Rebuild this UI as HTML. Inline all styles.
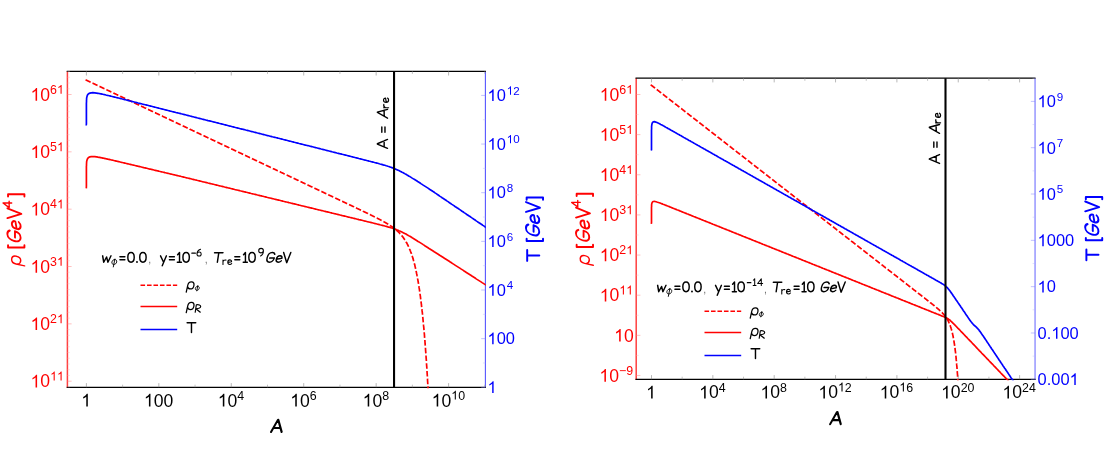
<!DOCTYPE html><html><head><meta charset="utf-8"><style>html,body{margin:0;padding:0;background:#fff}svg{display:block}</style></head><body><svg width="1112" height="458" viewBox="0 0 1112 458">
<rect width="1112" height="458" fill="#fff"/>
<g opacity="0.999">
<clipPath id="cl"><rect x="67.40" y="71.30" width="418.30" height="317.00"/></clipPath>
<clipPath id="cr"><rect x="636.2" y="78.2" width="398.8" height="302.1"/></clipPath>
<line x1="67.40" y1="71.30" x2="67.40" y2="387.90" stroke="#ff4040" stroke-width="1.5"/>
<line x1="485.40" y1="71.30" x2="485.40" y2="387.90" stroke="#5555ff" stroke-width="1.1"/>
<line x1="66.70" y1="71.30" x2="485.90" y2="71.30" stroke="#000" stroke-width="1.3"/>
<line x1="66.70" y1="387.30" x2="485.90" y2="387.30" stroke="#000" stroke-width="1.3"/>
<g clip-path="url(#cl)" fill="none" stroke-linejoin="round">
<path d="M85.6,79.8 L85.8,79.9 L86.1,80.0 L86.3,80.2 L86.6,80.3 L86.8,80.4 L87.1,80.5 L87.3,80.6 L87.6,80.7 L87.8,80.9 L88.1,81.0 L88.3,81.1 L88.6,81.2 L88.8,81.3 L89.1,81.5 L89.3,81.6 L89.6,81.7 L89.8,81.8 L90.1,81.9 L90.3,82.1 L90.6,82.2 L90.8,82.3 L91.1,82.4 L91.3,82.5 L91.6,82.6 L91.8,82.8 L92.1,82.9 L92.3,83.0 L92.6,83.1 L92.8,83.2 L93.1,83.4 L93.3,83.5 L93.6,83.6 L93.8,83.7 L94.1,83.8 L94.3,83.9 L94.6,84.1 L94.8,84.2 L95.1,84.3 L95.3,84.4 L95.6,84.5 L95.8,84.7 L96.1,84.8 L96.3,84.9 L96.6,85.0 L96.8,85.1 L97.1,85.2 L97.3,85.4 L97.6,85.5 L97.8,85.6 L98.1,85.7 L98.3,85.8 L98.6,86.0 L98.8,86.1 L99.1,86.2 L99.3,86.3 L99.6,86.4 L99.8,86.5 L100.1,86.7 L100.3,86.8 L100.6,86.9 L100.8,87.0 L101.1,87.1 L101.3,87.3 L101.6,87.4 L101.8,87.5 L102.1,87.6 L102.3,87.7 L102.6,87.9 L102.8,88.0 L103.1,88.1 L103.3,88.2 L103.6,88.3 L103.8,88.4 L104.1,88.6 L104.3,88.7 L104.6,88.8 L104.8,88.9 L105.1,89.0 L105.3,89.2 L105.6,89.3 L105.8,89.4 L106.1,89.5 L106.3,89.6 L106.6,89.7 L106.8,89.9 L107.1,90.0 L107.3,90.1 L107.6,90.2 L107.8,90.3 L108.1,90.5 L108.3,90.6 L108.6,90.7 L108.8,90.8 L109.1,90.9 L109.3,91.0 L109.6,91.2 L109.8,91.3 L110.1,91.4 L110.3,91.5 L110.6,91.6 L110.8,91.8 L111.1,91.9 L111.3,92.0 L111.6,92.1 L111.8,92.2 L112.1,92.3 L112.3,92.5 L112.6,92.6 L112.8,92.7 L113.1,92.8 L113.3,92.9 L113.6,93.1 L113.8,93.2 L114.1,93.3 L114.3,93.4 L114.6,93.5 L114.8,93.7 L115.1,93.8 L115.3,93.9 L115.6,94.0 L115.8,94.1 L116.1,94.2 L116.3,94.4 L116.6,94.5 L116.8,94.6 L117.1,94.7 L117.3,94.8 L117.6,95.0 L117.8,95.1 L118.1,95.2 L118.3,95.3 L118.6,95.4 L118.8,95.5 L119.1,95.7 L119.3,95.8 L119.6,95.9 L119.8,96.0 L120.1,96.1 L120.3,96.3 L120.6,96.4 L120.8,96.5 L121.1,96.6 L121.3,96.7 L121.6,96.8 L121.8,97.0 L122.1,97.1 L122.3,97.2 L122.6,97.3 L122.8,97.4 L123.1,97.6 L123.3,97.7 L123.6,97.8 L123.8,97.9 L124.1,98.0 L124.3,98.1 L124.6,98.3 L124.8,98.4 L125.1,98.5 L125.3,98.6 L125.6,98.7 L125.8,98.9 L126.1,99.0 L126.3,99.1 L126.6,99.2 L126.8,99.3 L127.1,99.5 L127.3,99.6 L127.6,99.7 L127.8,99.8 L128.1,99.9 L128.3,100.0 L128.6,100.2 L128.8,100.3 L129.1,100.4 L129.3,100.5 L129.6,100.6 L129.8,100.8 L130.1,100.9 L130.3,101.0 L130.6,101.1 L130.8,101.2 L131.1,101.3 L131.3,101.5 L131.6,101.6 L131.8,101.7 L132.1,101.8 L132.3,101.9 L132.6,102.1 L132.8,102.2 L133.1,102.3 L133.3,102.4 L133.6,102.5 L133.8,102.6 L134.1,102.8 L134.3,102.9 L134.6,103.0 L134.8,103.1 L135.1,103.2 L135.3,103.4 L135.6,103.5 L135.8,103.6 L136.1,103.7 L136.3,103.8 L136.6,104.0 L136.8,104.1 L137.1,104.2 L137.3,104.3 L137.6,104.4 L137.8,104.5 L138.1,104.7 L138.3,104.8 L138.6,104.9 L138.8,105.0 L139.1,105.1 L139.3,105.3 L139.6,105.4 L139.8,105.5 L140.1,105.6 L140.3,105.7 L140.6,105.8 L140.8,106.0 L141.1,106.1 L141.3,106.2 L141.6,106.3 L141.8,106.4 L142.1,106.6 L142.3,106.7 L142.6,106.8 L142.8,106.9 L143.1,107.0 L143.3,107.1 L143.6,107.3 L143.8,107.4 L144.1,107.5 L144.3,107.6 L144.6,107.7 L144.8,107.9 L145.1,108.0 L145.3,108.1 L145.6,108.2 L145.8,108.3 L146.1,108.4 L146.3,108.6 L146.6,108.7 L146.8,108.8 L147.1,108.9 L147.3,109.0 L147.6,109.2 L147.8,109.3 L148.1,109.4 L148.3,109.5 L148.6,109.6 L148.8,109.8 L149.1,109.9 L149.3,110.0 L149.6,110.1 L149.8,110.2 L150.1,110.3 L150.3,110.5 L150.6,110.6 L150.8,110.7 L151.1,110.8 L151.3,110.9 L151.6,111.1 L151.8,111.2 L152.1,111.3 L152.3,111.4 L152.6,111.5 L152.8,111.6 L153.1,111.8 L153.3,111.9 L153.6,112.0 L153.8,112.1 L154.1,112.2 L154.3,112.4 L154.6,112.5 L154.8,112.6 L155.1,112.7 L155.3,112.8 L155.6,112.9 L155.8,113.1 L156.1,113.2 L156.3,113.3 L156.6,113.4 L156.8,113.5 L157.1,113.7 L157.3,113.8 L157.6,113.9 L157.8,114.0 L158.1,114.1 L158.3,114.2 L158.6,114.4 L158.8,114.5 L159.1,114.6 L159.3,114.7 L159.6,114.8 L159.8,115.0 L160.1,115.1 L160.3,115.2 L160.6,115.3 L160.8,115.4 L161.1,115.6 L161.3,115.7 L161.6,115.8 L161.8,115.9 L162.1,116.0 L162.3,116.1 L162.6,116.3 L162.8,116.4 L163.1,116.5 L163.3,116.6 L163.6,116.7 L163.8,116.9 L164.1,117.0 L164.3,117.1 L164.6,117.2 L164.8,117.3 L165.1,117.4 L165.3,117.6 L165.6,117.7 L165.8,117.8 L166.1,117.9 L166.3,118.0 L166.6,118.2 L166.8,118.3 L167.1,118.4 L167.3,118.5 L167.6,118.6 L167.8,118.7 L168.1,118.9 L168.3,119.0 L168.6,119.1 L168.8,119.2 L169.1,119.3 L169.3,119.5 L169.6,119.6 L169.8,119.7 L170.1,119.8 L170.3,119.9 L170.6,120.0 L170.8,120.2 L171.1,120.3 L171.3,120.4 L171.6,120.5 L171.8,120.6 L172.1,120.8 L172.3,120.9 L172.6,121.0 L172.8,121.1 L173.1,121.2 L173.3,121.4 L173.6,121.5 L173.8,121.6 L174.1,121.7 L174.3,121.8 L174.6,121.9 L174.8,122.1 L175.1,122.2 L175.3,122.3 L175.6,122.4 L175.8,122.5 L176.1,122.7 L176.3,122.8 L176.6,122.9 L176.8,123.0 L177.1,123.1 L177.3,123.2 L177.6,123.4 L177.8,123.5 L178.1,123.6 L178.3,123.7 L178.6,123.8 L178.8,124.0 L179.1,124.1 L179.3,124.2 L179.6,124.3 L179.8,124.4 L180.1,124.5 L180.3,124.7 L180.6,124.8 L180.8,124.9 L181.1,125.0 L181.3,125.1 L181.6,125.3 L181.8,125.4 L182.1,125.5 L182.3,125.6 L182.6,125.7 L182.8,125.8 L183.1,126.0 L183.3,126.1 L183.6,126.2 L183.8,126.3 L184.1,126.4 L184.3,126.6 L184.6,126.7 L184.8,126.8 L185.1,126.9 L185.3,127.0 L185.6,127.2 L185.8,127.3 L186.1,127.4 L186.3,127.5 L186.6,127.6 L186.8,127.7 L187.1,127.9 L187.3,128.0 L187.6,128.1 L187.8,128.2 L188.1,128.3 L188.3,128.5 L188.6,128.6 L188.8,128.7 L189.1,128.8 L189.3,128.9 L189.6,129.0 L189.8,129.2 L190.1,129.3 L190.3,129.4 L190.6,129.5 L190.8,129.6 L191.1,129.8 L191.3,129.9 L191.6,130.0 L191.8,130.1 L192.1,130.2 L192.3,130.3 L192.6,130.5 L192.8,130.6 L193.1,130.7 L193.3,130.8 L193.6,130.9 L193.8,131.1 L194.1,131.2 L194.3,131.3 L194.6,131.4 L194.8,131.5 L195.1,131.6 L195.3,131.8 L195.6,131.9 L195.8,132.0 L196.1,132.1 L196.3,132.2 L196.6,132.4 L196.8,132.5 L197.1,132.6 L197.3,132.7 L197.6,132.8 L197.8,133.0 L198.1,133.1 L198.3,133.2 L198.6,133.3 L198.8,133.4 L199.1,133.5 L199.3,133.7 L199.6,133.8 L199.8,133.9 L200.1,134.0 L200.3,134.1 L200.6,134.3 L200.8,134.4 L201.1,134.5 L201.3,134.6 L201.6,134.7 L201.8,134.8 L202.1,135.0 L202.3,135.1 L202.6,135.2 L202.8,135.3 L203.1,135.4 L203.3,135.6 L203.6,135.7 L203.8,135.8 L204.1,135.9 L204.3,136.0 L204.6,136.1 L204.8,136.3 L205.1,136.4 L205.3,136.5 L205.6,136.6 L205.8,136.7 L206.1,136.9 L206.3,137.0 L206.6,137.1 L206.8,137.2 L207.1,137.3 L207.3,137.5 L207.6,137.6 L207.8,137.7 L208.1,137.8 L208.3,137.9 L208.6,138.0 L208.8,138.2 L209.1,138.3 L209.3,138.4 L209.6,138.5 L209.8,138.6 L210.1,138.8 L210.3,138.9 L210.6,139.0 L210.8,139.1 L211.1,139.2 L211.3,139.3 L211.6,139.5 L211.8,139.6 L212.1,139.7 L212.3,139.8 L212.6,139.9 L212.8,140.1 L213.1,140.2 L213.3,140.3 L213.6,140.4 L213.8,140.5 L214.1,140.6 L214.3,140.8 L214.6,140.9 L214.8,141.0 L215.1,141.1 L215.3,141.2 L215.6,141.4 L215.8,141.5 L216.1,141.6 L216.3,141.7 L216.6,141.8 L216.8,141.9 L217.1,142.1 L217.3,142.2 L217.6,142.3 L217.8,142.4 L218.1,142.5 L218.3,142.7 L218.6,142.8 L218.8,142.9 L219.1,143.0 L219.3,143.1 L219.6,143.3 L219.8,143.4 L220.1,143.5 L220.3,143.6 L220.6,143.7 L220.8,143.8 L221.1,144.0 L221.3,144.1 L221.6,144.2 L221.8,144.3 L222.1,144.4 L222.3,144.6 L222.6,144.7 L222.8,144.8 L223.1,144.9 L223.3,145.0 L223.6,145.1 L223.8,145.3 L224.1,145.4 L224.3,145.5 L224.6,145.6 L224.8,145.7 L225.1,145.9 L225.3,146.0 L225.6,146.1 L225.8,146.2 L226.1,146.3 L226.3,146.4 L226.6,146.6 L226.8,146.7 L227.1,146.8 L227.3,146.9 L227.6,147.0 L227.8,147.2 L228.1,147.3 L228.3,147.4 L228.6,147.5 L228.8,147.6 L229.1,147.7 L229.3,147.9 L229.6,148.0 L229.8,148.1 L230.1,148.2 L230.3,148.3 L230.6,148.5 L230.8,148.6 L231.1,148.7 L231.3,148.8 L231.6,148.9 L231.8,149.1 L232.1,149.2 L232.3,149.3 L232.6,149.4 L232.8,149.5 L233.1,149.6 L233.3,149.8 L233.6,149.9 L233.8,150.0 L234.1,150.1 L234.3,150.2 L234.6,150.4 L234.8,150.5 L235.1,150.6 L235.3,150.7 L235.6,150.8 L235.8,150.9 L236.1,151.1 L236.3,151.2 L236.6,151.3 L236.8,151.4 L237.1,151.5 L237.3,151.7 L237.6,151.8 L237.8,151.9 L238.1,152.0 L238.3,152.1 L238.6,152.2 L238.8,152.4 L239.1,152.5 L239.3,152.6 L239.6,152.7 L239.8,152.8 L240.1,153.0 L240.3,153.1 L240.6,153.2 L240.8,153.3 L241.1,153.4 L241.3,153.5 L241.6,153.7 L241.8,153.8 L242.1,153.9 L242.3,154.0 L242.6,154.1 L242.8,154.3 L243.1,154.4 L243.3,154.5 L243.6,154.6 L243.8,154.7 L244.1,154.9 L244.3,155.0 L244.6,155.1 L244.8,155.2 L245.1,155.3 L245.3,155.4 L245.6,155.6 L245.8,155.7 L246.1,155.8 L246.3,155.9 L246.6,156.0 L246.8,156.2 L247.1,156.3 L247.3,156.4 L247.6,156.5 L247.8,156.6 L248.1,156.7 L248.3,156.9 L248.6,157.0 L248.8,157.1 L249.1,157.2 L249.3,157.3 L249.6,157.5 L249.8,157.6 L250.1,157.7 L250.3,157.8 L250.6,157.9 L250.8,158.0 L251.1,158.2 L251.3,158.3 L251.6,158.4 L251.8,158.5 L252.1,158.6 L252.3,158.8 L252.6,158.9 L252.8,159.0 L253.1,159.1 L253.3,159.2 L253.6,159.3 L253.8,159.5 L254.1,159.6 L254.3,159.7 L254.6,159.8 L254.8,159.9 L255.1,160.1 L255.3,160.2 L255.6,160.3 L255.8,160.4 L256.1,160.5 L256.4,160.7 L256.6,160.8 L256.9,160.9 L257.1,161.0 L257.4,161.1 L257.6,161.2 L257.9,161.4 L258.1,161.5 L258.4,161.6 L258.6,161.7 L258.9,161.8 L259.1,162.0 L259.4,162.1 L259.6,162.2 L259.9,162.3 L260.1,162.4 L260.4,162.5 L260.6,162.7 L260.9,162.8 L261.1,162.9 L261.4,163.0 L261.6,163.1 L261.9,163.3 L262.1,163.4 L262.4,163.5 L262.6,163.6 L262.9,163.7 L263.1,163.8 L263.4,164.0 L263.6,164.1 L263.9,164.2 L264.1,164.3 L264.4,164.4 L264.6,164.6 L264.9,164.7 L265.1,164.8 L265.4,164.9 L265.6,165.0 L265.9,165.1 L266.1,165.3 L266.4,165.4 L266.6,165.5 L266.9,165.6 L267.1,165.7 L267.4,165.9 L267.6,166.0 L267.9,166.1 L268.1,166.2 L268.4,166.3 L268.6,166.5 L268.9,166.6 L269.1,166.7 L269.4,166.8 L269.6,166.9 L269.9,167.0 L270.1,167.2 L270.4,167.3 L270.6,167.4 L270.9,167.5 L271.1,167.6 L271.4,167.8 L271.6,167.9 L271.9,168.0 L272.1,168.1 L272.4,168.2 L272.6,168.3 L272.9,168.5 L273.1,168.6 L273.4,168.7 L273.6,168.8 L273.9,168.9 L274.1,169.1 L274.4,169.2 L274.6,169.3 L274.9,169.4 L275.1,169.5 L275.4,169.6 L275.6,169.8 L275.9,169.9 L276.1,170.0 L276.4,170.1 L276.6,170.2 L276.9,170.4 L277.1,170.5 L277.4,170.6 L277.6,170.7 L277.9,170.8 L278.1,171.0 L278.4,171.1 L278.6,171.2 L278.9,171.3 L279.1,171.4 L279.4,171.5 L279.6,171.7 L279.9,171.8 L280.1,171.9 L280.4,172.0 L280.6,172.1 L280.9,172.3 L281.1,172.4 L281.4,172.5 L281.6,172.6 L281.9,172.7 L282.1,172.8 L282.4,173.0 L282.6,173.1 L282.9,173.2 L283.1,173.3 L283.4,173.4 L283.6,173.6 L283.9,173.7 L284.1,173.8 L284.4,173.9 L284.6,174.0 L284.9,174.1 L285.1,174.3 L285.4,174.4 L285.6,174.5 L285.9,174.6 L286.1,174.7 L286.4,174.9 L286.6,175.0 L286.9,175.1 L287.1,175.2 L287.4,175.3 L287.6,175.4 L287.9,175.6 L288.1,175.7 L288.4,175.8 L288.6,175.9 L288.9,176.0 L289.1,176.2 L289.4,176.3 L289.6,176.4 L289.9,176.5 L290.1,176.6 L290.4,176.8 L290.6,176.9 L290.9,177.0 L291.1,177.1 L291.4,177.2 L291.6,177.3 L291.9,177.5 L292.1,177.6 L292.4,177.7 L292.6,177.8 L292.9,177.9 L293.1,178.1 L293.4,178.2 L293.6,178.3 L293.9,178.4 L294.1,178.5 L294.4,178.6 L294.6,178.8 L294.9,178.9 L295.1,179.0 L295.4,179.1 L295.6,179.2 L295.9,179.4 L296.1,179.5 L296.4,179.6 L296.6,179.7 L296.9,179.8 L297.1,179.9 L297.4,180.1 L297.6,180.2 L297.9,180.3 L298.1,180.4 L298.4,180.5 L298.6,180.7 L298.9,180.8 L299.1,180.9 L299.4,181.0 L299.6,181.1 L299.9,181.2 L300.1,181.4 L300.4,181.5 L300.6,181.6 L300.9,181.7 L301.1,181.8 L301.4,182.0 L301.6,182.1 L301.9,182.2 L302.1,182.3 L302.4,182.4 L302.6,182.6 L302.9,182.7 L303.1,182.8 L303.4,182.9 L303.6,183.0 L303.9,183.1 L304.1,183.3 L304.4,183.4 L304.6,183.5 L304.9,183.6 L305.1,183.7 L305.4,183.9 L305.6,184.0 L305.9,184.1 L306.1,184.2 L306.4,184.3 L306.6,184.4 L306.9,184.6 L307.1,184.7 L307.4,184.8 L307.6,184.9 L307.9,185.0 L308.1,185.2 L308.4,185.3 L308.6,185.4 L308.9,185.5 L309.1,185.6 L309.4,185.7 L309.6,185.9 L309.9,186.0 L310.1,186.1 L310.4,186.2 L310.6,186.3 L310.9,186.5 L311.1,186.6 L311.4,186.7 L311.6,186.8 L311.9,186.9 L312.1,187.0 L312.4,187.2 L312.6,187.3 L312.9,187.4 L313.1,187.5 L313.4,187.6 L313.6,187.8 L313.9,187.9 L314.1,188.0 L314.4,188.1 L314.6,188.2 L314.9,188.4 L315.1,188.5 L315.4,188.6 L315.6,188.7 L315.9,188.8 L316.1,188.9 L316.4,189.1 L316.6,189.2 L316.9,189.3 L317.1,189.4 L317.4,189.5 L317.6,189.7 L317.9,189.8 L318.1,189.9 L318.4,190.0 L318.6,190.1 L318.9,190.2 L319.1,190.4 L319.4,190.5 L319.6,190.6 L319.9,190.7 L320.1,190.8 L320.4,191.0 L320.6,191.1 L320.9,191.2 L321.1,191.3 L321.4,191.4 L321.6,191.5 L321.9,191.7 L322.1,191.8 L322.4,191.9 L322.6,192.0 L322.9,192.1 L323.1,192.3 L323.4,192.4 L323.6,192.5 L323.9,192.6 L324.1,192.7 L324.4,192.9 L324.6,193.0 L324.9,193.1 L325.1,193.2 L325.4,193.3 L325.6,193.4 L325.9,193.6 L326.1,193.7 L326.4,193.8 L326.6,193.9 L326.9,194.0 L327.1,194.2 L327.4,194.3 L327.6,194.4 L327.9,194.5 L328.1,194.6 L328.4,194.7 L328.6,194.9 L328.9,195.0 L329.1,195.1 L329.4,195.2 L329.6,195.3 L329.9,195.5 L330.1,195.6 L330.4,195.7 L330.6,195.8 L330.9,195.9 L331.1,196.0 L331.4,196.2 L331.6,196.3 L331.9,196.4 L332.1,196.5 L332.4,196.6 L332.6,196.8 L332.9,196.9 L333.1,197.0 L333.4,197.1 L333.6,197.2 L333.9,197.3 L334.1,197.5 L334.4,197.6 L334.6,197.7 L334.9,197.8 L335.1,197.9 L335.4,198.1 L335.6,198.2 L335.9,198.3 L336.1,198.4 L336.4,198.5 L336.6,198.7 L336.9,198.8 L337.1,198.9 L337.4,199.0 L337.6,199.1 L337.9,199.2 L338.1,199.4 L338.4,199.5 L338.6,199.6 L338.9,199.7 L339.1,199.8 L339.4,200.0 L339.6,200.1 L339.9,200.2 L340.1,200.3 L340.4,200.4 L340.6,200.5 L340.9,200.7 L341.1,200.8 L341.4,200.9 L341.6,201.0 L341.9,201.1 L342.1,201.3 L342.4,201.4 L342.6,201.5 L342.9,201.6 L343.1,201.7 L343.4,201.9 L343.6,202.0 L343.9,202.1 L344.1,202.2 L344.4,202.3 L344.6,202.4 L344.9,202.6 L345.1,202.7 L345.4,202.8 L345.6,202.9 L345.9,203.0 L346.1,203.2 L346.4,203.3 L346.6,203.4 L346.9,203.5 L347.1,203.6 L347.4,203.7 L347.6,203.9 L347.9,204.0 L348.1,204.1 L348.4,204.2 L348.6,204.3 L348.9,204.5 L349.1,204.6 L349.4,204.7 L349.6,204.8 L349.9,204.9 L350.1,205.1 L350.4,205.2 L350.6,205.3 L350.9,205.4 L351.1,205.5 L351.4,205.6 L351.6,205.8 L351.9,205.9 L352.1,206.0 L352.4,206.1 L352.6,206.2 L352.9,206.4 L353.1,206.5 L353.4,206.6 L353.6,206.7 L353.9,206.8 L354.1,207.0 L354.4,207.1 L354.6,207.2 L354.9,207.3 L355.1,207.4 L355.4,207.6 L355.6,207.7 L355.9,207.8 L356.1,207.9 L356.4,208.0 L356.6,208.1 L356.9,208.3 L357.1,208.4 L357.4,208.5 L357.6,208.6 L357.9,208.7 L358.1,208.9 L358.4,209.0 L358.6,209.1 L358.9,209.2 L359.1,209.3 L359.4,209.5 L359.6,209.6 L359.9,209.7 L360.1,209.8 L360.4,209.9 L360.6,210.1 L360.9,210.2 L361.1,210.3 L361.4,210.4 L361.6,210.5 L361.9,210.7 L362.1,210.8 L362.4,210.9 L362.6,211.0 L362.9,211.1 L363.1,211.3 L363.4,211.4 L363.6,211.5 L363.9,211.6 L364.1,211.7 L364.4,211.9 L364.6,212.0 L364.9,212.1 L365.1,212.2 L365.4,212.3 L365.6,212.5 L365.9,212.6 L366.1,212.7 L366.4,212.8 L366.6,212.9 L366.9,213.1 L367.1,213.2 L367.4,213.3 L367.6,213.4 L367.9,213.5 L368.1,213.7 L368.4,213.8 L368.6,213.9 L368.9,214.0 L369.1,214.2 L369.4,214.3 L369.6,214.4 L369.9,214.5 L370.1,214.6 L370.4,214.8 L370.6,214.9 L370.9,215.0 L371.1,215.1 L371.4,215.3 L371.6,215.4 L371.9,215.5 L372.1,215.6 L372.4,215.8 L372.6,215.9 L372.9,216.0 L373.1,216.1 L373.4,216.3 L373.6,216.4 L373.9,216.5 L374.1,216.6 L374.4,216.7 L374.6,216.9 L374.9,217.0 L375.1,217.1 L375.4,217.3 L375.6,217.4 L375.9,217.5 L376.1,217.6 L376.4,217.8 L376.6,217.9 L376.9,218.0 L377.1,218.1 L377.4,218.3 L377.6,218.4 L377.9,218.5 L378.1,218.7 L378.4,218.8 L378.6,218.9 L378.9,219.0 L379.1,219.2 L379.4,219.3 L379.6,219.4 L379.9,219.6 L380.1,219.7 L380.4,219.8 L380.6,220.0 L380.9,220.1 L381.1,220.2 L381.4,220.4 L381.6,220.5 L381.9,220.6 L382.1,220.8 L382.4,220.9 L382.6,221.0 L382.9,221.2 L383.1,221.3 L383.4,221.5 L383.6,221.6 L383.9,221.7 L384.1,221.9 L384.4,222.0 L384.6,222.2 L384.9,222.3 L385.1,222.4 L385.4,222.6 L385.6,222.7 L385.9,222.9 L386.1,223.0 L386.4,223.2 L386.6,223.3 L386.9,223.5 L387.1,223.6 L387.4,223.8 L387.6,223.9 L387.9,224.1 L388.1,224.2 L388.4,224.4 L388.6,224.5 L388.9,224.7 L389.1,224.8 L389.4,225.0 L389.6,225.2 L389.9,225.3 L390.1,225.5 L390.4,225.7 L390.6,225.8 L390.9,226.0 L391.1,226.2 L391.4,226.3 L391.6,226.5 L391.9,226.7 L392.1,226.8 L392.4,227.0 L392.6,227.2 L392.9,227.4 L393.1,227.6 L393.4,227.7 L393.6,227.9 L393.9,228.1 L394.1,228.3 L394.4,228.5 L394.6,228.7 L394.9,228.9 L395.1,229.1 L395.4,229.3 L395.6,229.5 L395.9,229.7 L396.1,229.9 L396.4,230.1 L396.6,230.4 L396.9,230.6 L397.1,230.8 L397.4,231.0 L397.6,231.3 L397.9,231.5 L398.1,231.7 L398.4,232.0 L398.6,232.2 L398.9,232.5 L399.1,232.7 L399.4,233.0 L399.6,233.2 L399.9,233.5 L400.1,233.8 L400.4,234.0 L400.6,234.3 L400.9,234.6 L401.1,234.9 L401.4,235.2 L401.6,235.5 L401.9,235.8 L402.1,236.1 L402.4,236.4 L402.6,236.7 L402.9,237.0 L403.1,237.4 L403.4,237.7 L403.6,238.1 L403.9,238.4 L404.1,238.8 L404.4,239.1 L404.6,239.5 L404.9,239.9 L405.1,240.3 L405.4,240.7 L405.6,241.1 L405.9,241.5 L406.1,242.0 L406.4,242.4 L406.6,242.8 L406.9,243.3 L407.1,243.8 L407.4,244.2 L407.6,244.7 L407.9,245.2 L408.1,245.7 L408.4,246.3 L408.6,246.8 L408.9,247.3 L409.1,247.9 L409.4,248.5 L409.6,249.1 L409.9,249.7 L410.1,250.3 L410.4,250.9 L410.6,251.6 L410.9,252.3 L411.1,252.9 L411.4,253.6 L411.6,254.4 L411.9,255.1 L412.1,255.9 L412.4,256.6 L412.6,257.4 L412.9,258.2 L413.1,259.1 L413.4,259.9 L413.6,260.8 L413.9,261.7 L414.1,262.7 L414.4,263.6 L414.6,264.6 L414.9,265.6 L415.1,266.6 L415.4,267.7 L415.6,268.8 L415.9,269.9 L416.1,271.1 L416.4,272.3 L416.6,273.5 L416.9,274.7 L417.1,276.0 L417.4,277.3 L417.6,278.7 L417.9,280.1 L418.1,281.5 L418.4,283.0 L418.6,284.5 L418.9,286.1 L419.1,287.7 L419.4,289.3 L419.6,291.0 L419.9,292.8 L420.1,294.6 L420.4,296.4 L420.6,298.3 L420.9,300.3 L421.1,302.3 L421.4,304.4 L421.6,306.5 L421.9,308.7 L422.1,310.9 L422.4,313.2 L422.6,315.6 L422.9,318.1 L423.1,320.6 L423.4,323.2 L423.6,325.9 L423.9,328.7 L424.1,331.5 L424.4,334.4 L424.6,337.4 L424.9,340.5 L425.1,343.7 L425.4,347.0 L425.6,350.4 L425.9,353.8 L426.1,357.4 L426.4,361.1 L426.6,364.9 L426.9,368.8 L427.1,372.8 L427.4,377.0 L427.6,381.2 L427.9,385.6 L428.1,390.2" stroke="#ff0000" stroke-width="1.70" stroke-dasharray="5.6 2.15"/>
<path d="M86.3,188.4 L86.4,186.1 L86.4,185.2 L86.4,184.4 L86.4,183.5 L86.4,182.7 L86.4,181.8 L86.4,180.9 L86.4,180.1 L86.4,179.2 L86.4,178.4 L86.4,177.5 L86.4,176.6 L86.4,175.8 L86.4,174.9 L86.4,174.1 L86.4,173.2 L86.4,172.3 L86.4,171.5 L86.4,170.6 L86.4,169.8 L86.4,168.9 L86.4,168.0 L86.4,167.2 L86.4,166.3 L86.5,165.5 L86.5,164.6 L86.5,163.8 L86.6,163.0 L86.6,162.1 L86.7,161.3 L86.9,160.5 L87.1,159.8 L87.4,159.1 L87.7,158.4 L88.3,157.8 L89.0,157.3 L89.9,156.9 L91.2,156.7 L92.8,156.6 L94.8,156.7 L98.1,157.2 L98.9,157.3 L99.7,157.4 L100.4,157.6 L101.2,157.7 L102.0,157.9 L102.8,158.1 L103.6,158.2 L104.4,158.4 L105.2,158.6 L105.9,158.7 L106.7,158.9 L107.5,159.1 L108.3,159.3 L109.1,159.4 L109.9,159.6 L110.7,159.8 L111.4,160.0 L112.2,160.1 L113.0,160.3 L113.8,160.5 L114.6,160.7 L115.4,160.9 L116.2,161.1 L116.9,161.2 L117.7,161.4 L118.5,161.6 L119.3,161.8 L120.1,162.0 L120.9,162.2 L121.7,162.4 L122.4,162.5 L123.2,162.7 L124.0,162.9 L124.8,163.1 L125.6,163.3 L126.4,163.5 L127.1,163.7 L127.9,163.8 L128.7,164.0 L129.5,164.2 L130.3,164.4 L131.1,164.6 L131.9,164.8 L132.6,165.0 L133.4,165.1 L134.2,165.3 L135.0,165.5 L135.8,165.7 L136.6,165.9 L137.4,166.1 L138.1,166.3 L138.9,166.4 L139.7,166.6 L140.5,166.8 L141.3,167.0 L142.1,167.2 L142.9,167.4 L143.6,167.6 L144.4,167.8 L145.2,167.9 L146.0,168.1 L146.8,168.3 L147.6,168.5 L148.4,168.7 L149.1,168.9 L149.9,169.1 L150.7,169.2 L151.5,169.4 L152.3,169.6 L153.1,169.8 L153.9,170.0 L154.6,170.2 L155.4,170.4 L156.2,170.6 L157.0,170.7 L157.8,170.9 L158.6,171.1 L159.3,171.3 L160.1,171.5 L160.9,171.7 L161.7,171.9 L162.5,172.0 L163.3,172.2 L164.1,172.4 L164.8,172.6 L165.6,172.8 L166.4,173.0 L167.2,173.2 L168.0,173.3 L168.8,173.5 L169.6,173.7 L170.3,173.9 L171.1,174.1 L171.9,174.3 L172.7,174.5 L173.5,174.7 L174.3,174.8 L175.1,175.0 L175.8,175.2 L176.6,175.4 L177.4,175.6 L178.2,175.8 L179.0,176.0 L179.8,176.1 L180.6,176.3 L181.3,176.5 L182.1,176.7 L182.9,176.9 L183.7,177.1 L184.5,177.3 L185.3,177.5 L186.1,177.7 L186.8,177.9 L187.6,178.0 L188.4,178.2 L189.2,178.4 L190.0,178.6 L190.8,178.8 L191.6,179.0 L192.3,179.2 L193.1,179.4 L193.9,179.6 L194.7,179.8 L195.5,180.0 L196.3,180.1 L197.0,180.3 L197.8,180.5 L198.6,180.7 L199.4,180.9 L200.2,181.1 L201.0,181.3 L201.8,181.5 L202.5,181.7 L203.3,181.9 L204.1,182.0 L204.9,182.2 L205.7,182.4 L206.5,182.6 L207.3,182.8 L208.0,183.0 L208.8,183.2 L209.6,183.4 L210.4,183.6 L211.2,183.8 L212.0,184.0 L212.8,184.1 L213.5,184.3 L214.3,184.5 L215.1,184.7 L215.9,184.9 L216.7,185.1 L217.5,185.3 L218.3,185.5 L219.0,185.7 L219.8,185.9 L220.6,186.0 L221.4,186.2 L222.2,186.4 L223.0,186.6 L223.8,186.8 L224.5,187.0 L225.3,187.2 L226.1,187.4 L226.9,187.6 L227.7,187.8 L228.5,188.0 L229.2,188.1 L230.0,188.3 L230.8,188.5 L231.6,188.7 L232.4,188.9 L233.2,189.1 L234.0,189.3 L234.7,189.5 L235.5,189.7 L236.3,189.9 L237.1,190.0 L237.9,190.2 L238.7,190.4 L239.5,190.6 L240.2,190.8 L241.0,191.0 L241.8,191.2 L242.6,191.4 L243.4,191.6 L244.2,191.8 L245.0,191.9 L245.7,192.1 L246.5,192.3 L247.3,192.5 L248.1,192.7 L248.9,192.9 L249.7,193.1 L250.5,193.3 L251.2,193.5 L252.0,193.7 L252.8,193.9 L253.6,194.0 L254.4,194.2 L255.2,194.4 L256.0,194.6 L256.7,194.8 L257.5,195.0 L258.3,195.2 L259.1,195.4 L259.9,195.6 L260.7,195.8 L261.5,195.9 L262.2,196.1 L263.0,196.3 L263.8,196.5 L264.6,196.7 L265.4,196.9 L266.2,197.1 L266.9,197.3 L267.7,197.5 L268.5,197.7 L269.3,197.9 L270.1,198.0 L270.9,198.2 L271.7,198.4 L272.4,198.6 L273.2,198.8 L274.0,199.0 L274.8,199.2 L275.6,199.4 L276.4,199.6 L277.2,199.8 L277.9,199.9 L278.7,200.1 L279.5,200.3 L280.3,200.5 L281.1,200.7 L281.9,200.9 L282.7,201.1 L283.4,201.3 L284.2,201.5 L285.0,201.7 L285.8,201.9 L286.6,202.0 L287.4,202.2 L288.2,202.4 L288.9,202.6 L289.7,202.8 L290.5,203.0 L291.3,203.2 L292.1,203.4 L292.9,203.6 L293.7,203.8 L294.4,203.9 L295.2,204.1 L296.0,204.3 L296.8,204.5 L297.6,204.7 L298.4,204.9 L299.1,205.1 L299.9,205.3 L300.7,205.5 L301.5,205.7 L302.3,205.9 L303.1,206.0 L303.9,206.2 L304.6,206.4 L305.4,206.6 L306.2,206.8 L307.0,207.0 L307.8,207.2 L308.6,207.4 L309.4,207.6 L310.1,207.8 L310.9,207.9 L311.7,208.1 L312.5,208.3 L313.3,208.5 L314.1,208.7 L314.9,208.9 L315.6,209.1 L316.4,209.3 L317.2,209.5 L318.0,209.7 L318.8,209.9 L319.6,210.0 L320.4,210.2 L321.1,210.4 L321.9,210.6 L322.7,210.8 L323.5,211.0 L324.3,211.2 L325.1,211.4 L325.9,211.6 L326.6,211.8 L327.4,211.9 L328.2,212.1 L329.0,212.3 L329.8,212.5 L330.6,212.7 L331.4,212.9 L332.1,213.1 L332.9,213.3 L333.7,213.5 L334.5,213.7 L335.3,213.8 L336.1,214.0 L336.8,214.2 L337.6,214.4 L338.4,214.6 L339.2,214.8 L340.0,215.0 L340.8,215.2 L341.6,215.4 L342.3,215.6 L343.1,215.8 L343.9,215.9 L344.7,216.1 L345.5,216.3 L346.3,216.5 L347.1,216.7 L347.8,216.9 L348.6,217.1 L349.4,217.3 L350.2,217.5 L351.0,217.7 L351.8,217.8 L352.6,218.0 L353.3,218.2 L354.1,218.4 L354.9,218.6 L355.7,218.8 L356.5,219.0 L357.3,219.2 L358.1,219.4 L358.8,219.6 L359.6,219.8 L360.4,219.9 L361.2,220.1 L362.0,220.3 L362.8,220.5 L363.6,220.7 L364.3,220.9 L365.1,221.1 L365.9,221.3 L366.7,221.5 L367.5,221.7 L368.3,221.9 L369.0,222.0 L369.8,222.2 L370.6,222.4 L371.4,222.6 L372.2,222.8 L373.0,223.0 L373.8,223.2 L374.5,223.4 L375.3,223.6 L376.1,223.8 L376.9,224.0 L377.7,224.2 L378.5,224.4 L379.3,224.6 L380.0,224.8 L380.8,225.0 L381.6,225.2 L382.4,225.4 L383.2,225.6 L384.0,225.8 L384.8,226.0 L385.5,226.2 L386.3,226.4 L387.1,226.6 L387.9,226.9 L388.7,227.1 L389.5,227.3 L390.3,227.6 L391.0,227.8 L391.8,228.0 L392.6,228.3 L393.4,228.6 L394.2,228.8 L395.0,229.1 L395.8,229.4 L396.5,229.7 L397.3,230.0 L398.1,230.3 L398.9,230.7 L399.7,231.0 L400.5,231.4 L401.3,231.7 L402.0,232.1 L402.8,232.5 L403.6,232.9 L404.4,233.3 L405.2,233.7 L406.0,234.1 L406.7,234.5 L407.5,235.0 L408.3,235.4 L409.1,235.9 L409.9,236.3 L410.7,236.8 L411.5,237.3 L412.2,237.8 L413.0,238.2 L413.8,238.7 L414.6,239.2 L415.4,239.7 L416.2,240.2 L417.0,240.7 L417.7,241.2 L418.5,241.7 L419.3,242.1 L420.1,242.6 L420.9,243.1 L421.7,243.6 L422.5,244.1 L423.2,244.6 L424.0,245.1 L424.8,245.7 L425.6,246.2 L426.4,246.7 L427.2,247.2 L428.0,247.7 L428.7,248.2 L429.5,248.7 L430.3,249.2 L431.1,249.7 L431.9,250.2 L432.7,250.7 L433.5,251.2 L434.2,251.7 L435.0,252.2 L435.8,252.7 L436.6,253.2 L437.4,253.7 L438.2,254.2 L438.9,254.7 L439.7,255.3 L440.5,255.8 L441.3,256.3 L442.1,256.8 L442.9,257.3 L443.7,257.8 L444.4,258.3 L445.2,258.8 L446.0,259.3 L446.8,259.8 L447.6,260.3 L448.4,260.8 L449.2,261.3 L449.9,261.8 L450.7,262.3 L451.5,262.8 L452.3,263.4 L453.1,263.9 L453.9,264.4 L454.7,264.9 L455.4,265.4 L456.2,265.9 L457.0,266.4 L457.8,266.9 L458.6,267.4 L459.4,267.9 L460.2,268.4 L460.9,268.9 L461.7,269.4 L462.5,269.9 L463.3,270.4 L464.1,271.0 L464.9,271.5 L465.7,272.0 L466.4,272.5 L467.2,273.0 L468.0,273.5 L468.8,274.0 L469.6,274.5 L470.4,275.0 L471.2,275.5 L471.9,276.0 L472.7,276.5 L473.5,277.0 L474.3,277.5 L475.1,278.0 L475.9,278.6 L476.6,279.1 L477.4,279.6 L478.2,280.1 L479.0,280.6 L479.8,281.1 L480.6,281.6 L481.4,282.1 L482.1,282.6 L482.9,283.1 L483.7,283.6 L484.5,284.1 L485.3,284.6 L486.1,285.1 L486.9,285.6 L487.6,286.2 L488.4,286.7 L489.2,287.2 L490.0,287.7" stroke="#ff0000" stroke-width="1.70"/>
<path d="M86.2,125.5 L86.4,124.0 L86.4,123.1 L86.4,122.2 L86.4,121.2 L86.4,120.3 L86.4,119.4 L86.4,118.5 L86.4,117.6 L86.4,116.7 L86.4,115.8 L86.4,114.9 L86.4,114.0 L86.4,113.0 L86.4,112.1 L86.4,111.2 L86.4,110.3 L86.4,109.4 L86.4,108.5 L86.4,107.6 L86.4,106.7 L86.4,105.8 L86.4,104.9 L86.4,104.0 L86.4,103.0 L86.5,102.1 L86.5,101.2 L86.5,100.4 L86.6,99.5 L86.6,98.6 L86.7,97.7 L86.9,96.9 L87.1,96.1 L87.4,95.3 L87.7,94.6 L88.3,94.0 L89.0,93.5 L89.9,93.1 L91.2,92.8 L92.8,92.7 L94.8,92.9 L98.1,93.3 L98.9,93.5 L99.7,93.6 L100.4,93.8 L101.2,93.9 L102.0,94.1 L102.8,94.3 L103.6,94.5 L104.4,94.6 L105.2,94.8 L105.9,95.0 L106.7,95.2 L107.5,95.4 L108.3,95.5 L109.1,95.7 L109.9,95.9 L110.7,96.1 L111.4,96.3 L112.2,96.5 L113.0,96.7 L113.8,96.9 L114.6,97.1 L115.4,97.3 L116.2,97.5 L116.9,97.7 L117.7,97.8 L118.5,98.0 L119.3,98.2 L120.1,98.4 L120.9,98.6 L121.7,98.8 L122.4,99.0 L123.2,99.2 L124.0,99.4 L124.8,99.6 L125.6,99.8 L126.4,100.0 L127.1,100.2 L127.9,100.4 L128.7,100.6 L129.5,100.8 L130.3,101.0 L131.1,101.2 L131.9,101.4 L132.6,101.6 L133.4,101.8 L134.2,102.0 L135.0,102.2 L135.8,102.4 L136.6,102.6 L137.4,102.8 L138.1,103.0 L138.9,103.2 L139.7,103.4 L140.5,103.6 L141.3,103.8 L142.1,104.0 L142.9,104.2 L143.6,104.4 L144.4,104.5 L145.2,104.7 L146.0,104.9 L146.8,105.1 L147.6,105.3 L148.4,105.5 L149.1,105.7 L149.9,105.9 L150.7,106.1 L151.5,106.3 L152.3,106.5 L153.1,106.7 L153.9,106.9 L154.6,107.1 L155.4,107.3 L156.2,107.5 L157.0,107.7 L157.8,107.9 L158.6,108.1 L159.3,108.3 L160.1,108.5 L160.9,108.7 L161.7,108.9 L162.5,109.1 L163.3,109.3 L164.1,109.5 L164.8,109.7 L165.6,109.9 L166.4,110.1 L167.2,110.3 L168.0,110.5 L168.8,110.7 L169.6,110.9 L170.3,111.1 L171.1,111.3 L171.9,111.5 L172.7,111.7 L173.5,111.9 L174.3,112.1 L175.1,112.3 L175.8,112.5 L176.6,112.7 L177.4,112.8 L178.2,113.0 L179.0,113.2 L179.8,113.4 L180.6,113.6 L181.3,113.8 L182.1,114.0 L182.9,114.2 L183.7,114.4 L184.5,114.6 L185.3,114.8 L186.1,115.0 L186.8,115.2 L187.6,115.4 L188.4,115.6 L189.2,115.8 L190.0,116.0 L190.8,116.2 L191.6,116.4 L192.3,116.6 L193.1,116.8 L193.9,117.0 L194.7,117.2 L195.5,117.4 L196.3,117.6 L197.0,117.8 L197.8,118.0 L198.6,118.2 L199.4,118.4 L200.2,118.6 L201.0,118.8 L201.8,119.0 L202.5,119.2 L203.3,119.4 L204.1,119.6 L204.9,119.8 L205.7,120.0 L206.5,120.2 L207.3,120.4 L208.0,120.6 L208.8,120.8 L209.6,120.9 L210.4,121.1 L211.2,121.3 L212.0,121.5 L212.8,121.7 L213.5,121.9 L214.3,122.1 L215.1,122.3 L215.9,122.5 L216.7,122.7 L217.5,122.9 L218.3,123.1 L219.0,123.3 L219.8,123.5 L220.6,123.7 L221.4,123.9 L222.2,124.1 L223.0,124.3 L223.8,124.5 L224.5,124.7 L225.3,124.9 L226.1,125.1 L226.9,125.3 L227.7,125.5 L228.5,125.7 L229.2,125.9 L230.0,126.1 L230.8,126.3 L231.6,126.5 L232.4,126.7 L233.2,126.9 L234.0,127.1 L234.7,127.3 L235.5,127.5 L236.3,127.7 L237.1,127.9 L237.9,128.1 L238.7,128.3 L239.5,128.5 L240.2,128.7 L241.0,128.9 L241.8,129.1 L242.6,129.2 L243.4,129.4 L244.2,129.6 L245.0,129.8 L245.7,130.0 L246.5,130.2 L247.3,130.4 L248.1,130.6 L248.9,130.8 L249.7,131.0 L250.5,131.2 L251.2,131.4 L252.0,131.6 L252.8,131.8 L253.6,132.0 L254.4,132.2 L255.2,132.4 L256.0,132.6 L256.7,132.8 L257.5,133.0 L258.3,133.2 L259.1,133.4 L259.9,133.6 L260.7,133.8 L261.5,134.0 L262.2,134.2 L263.0,134.4 L263.8,134.6 L264.6,134.8 L265.4,135.0 L266.2,135.2 L266.9,135.4 L267.7,135.6 L268.5,135.8 L269.3,136.0 L270.1,136.2 L270.9,136.4 L271.7,136.6 L272.4,136.8 L273.2,137.0 L274.0,137.2 L274.8,137.3 L275.6,137.5 L276.4,137.7 L277.2,137.9 L277.9,138.1 L278.7,138.3 L279.5,138.5 L280.3,138.7 L281.1,138.9 L281.9,139.1 L282.7,139.3 L283.4,139.5 L284.2,139.7 L285.0,139.9 L285.8,140.1 L286.6,140.3 L287.4,140.5 L288.2,140.7 L288.9,140.9 L289.7,141.1 L290.5,141.3 L291.3,141.5 L292.1,141.7 L292.9,141.9 L293.7,142.1 L294.4,142.3 L295.2,142.5 L296.0,142.7 L296.8,142.9 L297.6,143.1 L298.4,143.3 L299.1,143.5 L299.9,143.7 L300.7,143.9 L301.5,144.1 L302.3,144.3 L303.1,144.5 L303.9,144.7 L304.6,144.9 L305.4,145.1 L306.2,145.3 L307.0,145.5 L307.8,145.6 L308.6,145.8 L309.4,146.0 L310.1,146.2 L310.9,146.4 L311.7,146.6 L312.5,146.8 L313.3,147.0 L314.1,147.2 L314.9,147.4 L315.6,147.6 L316.4,147.8 L317.2,148.0 L318.0,148.2 L318.8,148.4 L319.6,148.6 L320.4,148.8 L321.1,149.0 L321.9,149.2 L322.7,149.4 L323.5,149.6 L324.3,149.8 L325.1,150.0 L325.9,150.2 L326.6,150.4 L327.4,150.6 L328.2,150.8 L329.0,151.0 L329.8,151.2 L330.6,151.4 L331.4,151.6 L332.1,151.8 L332.9,152.0 L333.7,152.2 L334.5,152.4 L335.3,152.6 L336.1,152.8 L336.8,153.0 L337.6,153.2 L338.4,153.4 L339.2,153.6 L340.0,153.8 L340.8,153.9 L341.6,154.1 L342.3,154.3 L343.1,154.5 L343.9,154.7 L344.7,154.9 L345.5,155.1 L346.3,155.3 L347.1,155.5 L347.8,155.7 L348.6,155.9 L349.4,156.1 L350.2,156.3 L351.0,156.5 L351.8,156.7 L352.6,156.9 L353.3,157.1 L354.1,157.3 L354.9,157.5 L355.7,157.7 L356.5,157.9 L357.3,158.1 L358.1,158.3 L358.8,158.5 L359.6,158.7 L360.4,158.9 L361.2,159.1 L362.0,159.3 L362.8,159.5 L363.6,159.7 L364.3,159.9 L365.1,160.1 L365.9,160.3 L366.7,160.5 L367.5,160.7 L368.3,160.9 L369.0,161.1 L369.8,161.3 L370.6,161.5 L371.4,161.7 L372.2,161.9 L373.0,162.1 L373.8,162.3 L374.5,162.5 L375.3,162.7 L376.1,162.9 L376.9,163.1 L377.7,163.3 L378.5,163.5 L379.3,163.8 L380.0,164.0 L380.8,164.2 L381.6,164.4 L382.4,164.6 L383.2,164.9 L384.0,165.1 L384.8,165.3 L385.5,165.5 L386.3,165.8 L387.1,166.0 L387.9,166.3 L388.7,166.5 L389.5,166.8 L390.3,167.1 L391.0,167.3 L391.8,167.6 L392.6,167.9 L393.4,168.2 L394.2,168.5 L395.0,168.9 L395.8,169.2 L396.5,169.5 L397.3,169.9 L398.1,170.2 L398.9,170.6 L399.7,171.0 L400.5,171.4 L401.3,171.8 L402.0,172.2 L402.8,172.6 L403.6,173.0 L404.4,173.4 L405.2,173.9 L406.0,174.3 L406.7,174.8 L407.5,175.2 L408.3,175.7 L409.1,176.2 L409.9,176.6 L410.7,177.1 L411.5,177.6 L412.2,178.1 L413.0,178.6 L413.8,179.1 L414.6,179.5 L415.4,180.0 L416.2,180.5 L417.0,181.0 L417.7,181.5 L418.5,182.0 L419.3,182.5 L420.1,183.0 L420.9,183.6 L421.7,184.1 L422.5,184.6 L423.2,185.1 L424.0,185.6 L424.8,186.1 L425.6,186.6 L426.4,187.1 L427.2,187.6 L428.0,188.1 L428.7,188.6 L429.5,189.2 L430.3,189.7 L431.1,190.2 L431.9,190.7 L432.7,191.3 L433.5,191.8 L434.2,192.3 L435.0,192.9 L435.8,193.4 L436.6,193.9 L437.4,194.5 L438.2,195.0 L438.9,195.5 L439.7,196.1 L440.5,196.6 L441.3,197.1 L442.1,197.7 L442.9,198.2 L443.7,198.7 L444.4,199.3 L445.2,199.8 L446.0,200.3 L446.8,200.9 L447.6,201.4 L448.4,201.9 L449.2,202.5 L449.9,203.0 L450.7,203.5 L451.5,204.1 L452.3,204.6 L453.1,205.1 L453.9,205.6 L454.7,206.2 L455.4,206.7 L456.2,207.2 L457.0,207.8 L457.8,208.3 L458.6,208.8 L459.4,209.4 L460.2,209.9 L460.9,210.4 L461.7,211.0 L462.5,211.5 L463.3,212.0 L464.1,212.6 L464.9,213.1 L465.7,213.6 L466.4,214.2 L467.2,214.7 L468.0,215.2 L468.8,215.8 L469.6,216.3 L470.4,216.8 L471.2,217.4 L471.9,217.9 L472.7,218.4 L473.5,219.0 L474.3,219.5 L475.1,220.0 L475.9,220.6 L476.6,221.1 L477.4,221.6 L478.2,222.2 L479.0,222.7 L479.8,223.2 L480.6,223.8 L481.4,224.3 L482.1,224.8 L482.9,225.4 L483.7,225.9 L484.5,226.4 L485.3,227.0 L486.1,227.5 L486.9,228.0 L487.6,228.6 L488.4,229.1 L489.2,229.6 L490.0,230.2" stroke="#0000ff" stroke-width="1.70"/>
</g>
<line x1="394.05" y1="71.3" x2="394.05" y2="387.3" stroke="#000" stroke-width="2.1"/>
<line x1="86.40" y1="71.30" x2="86.40" y2="75.50" stroke="#888" stroke-width="0.6"/>
<line x1="86.40" y1="387.30" x2="86.40" y2="383.10" stroke="#888" stroke-width="0.6"/>
<line x1="158.84" y1="71.30" x2="158.84" y2="75.50" stroke="#888" stroke-width="0.6"/>
<line x1="158.84" y1="387.30" x2="158.84" y2="383.10" stroke="#888" stroke-width="0.6"/>
<line x1="231.28" y1="71.30" x2="231.28" y2="75.50" stroke="#888" stroke-width="0.6"/>
<line x1="231.28" y1="387.30" x2="231.28" y2="383.10" stroke="#888" stroke-width="0.6"/>
<line x1="303.72" y1="71.30" x2="303.72" y2="75.50" stroke="#888" stroke-width="0.6"/>
<line x1="303.72" y1="387.30" x2="303.72" y2="383.10" stroke="#888" stroke-width="0.6"/>
<line x1="376.16" y1="71.30" x2="376.16" y2="75.50" stroke="#888" stroke-width="0.6"/>
<line x1="376.16" y1="387.30" x2="376.16" y2="383.10" stroke="#888" stroke-width="0.6"/>
<line x1="448.60" y1="71.30" x2="448.60" y2="75.50" stroke="#888" stroke-width="0.6"/>
<line x1="448.60" y1="387.30" x2="448.60" y2="383.10" stroke="#888" stroke-width="0.6"/>
<line x1="122.62" y1="71.30" x2="122.62" y2="73.90" stroke="#999" stroke-width="0.6"/>
<line x1="122.62" y1="387.30" x2="122.62" y2="384.70" stroke="#999" stroke-width="0.6"/>
<line x1="195.06" y1="71.30" x2="195.06" y2="73.90" stroke="#999" stroke-width="0.6"/>
<line x1="195.06" y1="387.30" x2="195.06" y2="384.70" stroke="#999" stroke-width="0.6"/>
<line x1="267.50" y1="71.30" x2="267.50" y2="73.90" stroke="#999" stroke-width="0.6"/>
<line x1="267.50" y1="387.30" x2="267.50" y2="384.70" stroke="#999" stroke-width="0.6"/>
<line x1="339.94" y1="71.30" x2="339.94" y2="73.90" stroke="#999" stroke-width="0.6"/>
<line x1="339.94" y1="387.30" x2="339.94" y2="384.70" stroke="#999" stroke-width="0.6"/>
<line x1="412.38" y1="71.30" x2="412.38" y2="73.90" stroke="#999" stroke-width="0.6"/>
<line x1="412.38" y1="387.30" x2="412.38" y2="384.70" stroke="#999" stroke-width="0.6"/>
<line x1="484.82" y1="71.30" x2="484.82" y2="73.90" stroke="#999" stroke-width="0.6"/>
<line x1="484.82" y1="387.30" x2="484.82" y2="384.70" stroke="#999" stroke-width="0.6"/>
<line x1="67.40" y1="94.50" x2="71.60" y2="94.50" stroke="#ff8080" stroke-width="0.5"/>
<line x1="67.40" y1="151.84" x2="71.60" y2="151.84" stroke="#ff8080" stroke-width="0.5"/>
<line x1="67.40" y1="209.18" x2="71.60" y2="209.18" stroke="#ff8080" stroke-width="0.5"/>
<line x1="67.40" y1="266.52" x2="71.60" y2="266.52" stroke="#ff8080" stroke-width="0.5"/>
<line x1="67.40" y1="323.86" x2="71.60" y2="323.86" stroke="#ff8080" stroke-width="0.5"/>
<line x1="67.40" y1="381.20" x2="71.60" y2="381.20" stroke="#ff8080" stroke-width="0.5"/>
<line x1="67.40" y1="386.93" x2="69.90" y2="386.93" stroke="#ffb4b4" stroke-width="0.4"/>
<line x1="67.40" y1="375.47" x2="69.90" y2="375.47" stroke="#ffb4b4" stroke-width="0.4"/>
<line x1="67.40" y1="369.73" x2="69.90" y2="369.73" stroke="#ffb4b4" stroke-width="0.4"/>
<line x1="67.40" y1="364.00" x2="69.90" y2="364.00" stroke="#ffb4b4" stroke-width="0.4"/>
<line x1="67.40" y1="358.26" x2="69.90" y2="358.26" stroke="#ffb4b4" stroke-width="0.4"/>
<line x1="67.40" y1="352.53" x2="69.90" y2="352.53" stroke="#ffb4b4" stroke-width="0.4"/>
<line x1="67.40" y1="346.80" x2="69.90" y2="346.80" stroke="#ffb4b4" stroke-width="0.4"/>
<line x1="67.40" y1="341.06" x2="69.90" y2="341.06" stroke="#ffb4b4" stroke-width="0.4"/>
<line x1="67.40" y1="335.33" x2="69.90" y2="335.33" stroke="#ffb4b4" stroke-width="0.4"/>
<line x1="67.40" y1="329.59" x2="69.90" y2="329.59" stroke="#ffb4b4" stroke-width="0.4"/>
<line x1="67.40" y1="318.13" x2="69.90" y2="318.13" stroke="#ffb4b4" stroke-width="0.4"/>
<line x1="67.40" y1="312.39" x2="69.90" y2="312.39" stroke="#ffb4b4" stroke-width="0.4"/>
<line x1="67.40" y1="306.66" x2="69.90" y2="306.66" stroke="#ffb4b4" stroke-width="0.4"/>
<line x1="67.40" y1="300.92" x2="69.90" y2="300.92" stroke="#ffb4b4" stroke-width="0.4"/>
<line x1="67.40" y1="295.19" x2="69.90" y2="295.19" stroke="#ffb4b4" stroke-width="0.4"/>
<line x1="67.40" y1="289.46" x2="69.90" y2="289.46" stroke="#ffb4b4" stroke-width="0.4"/>
<line x1="67.40" y1="283.72" x2="69.90" y2="283.72" stroke="#ffb4b4" stroke-width="0.4"/>
<line x1="67.40" y1="277.99" x2="69.90" y2="277.99" stroke="#ffb4b4" stroke-width="0.4"/>
<line x1="67.40" y1="272.25" x2="69.90" y2="272.25" stroke="#ffb4b4" stroke-width="0.4"/>
<line x1="67.40" y1="260.79" x2="69.90" y2="260.79" stroke="#ffb4b4" stroke-width="0.4"/>
<line x1="67.40" y1="255.05" x2="69.90" y2="255.05" stroke="#ffb4b4" stroke-width="0.4"/>
<line x1="67.40" y1="249.32" x2="69.90" y2="249.32" stroke="#ffb4b4" stroke-width="0.4"/>
<line x1="67.40" y1="243.58" x2="69.90" y2="243.58" stroke="#ffb4b4" stroke-width="0.4"/>
<line x1="67.40" y1="237.85" x2="69.90" y2="237.85" stroke="#ffb4b4" stroke-width="0.4"/>
<line x1="67.40" y1="232.12" x2="69.90" y2="232.12" stroke="#ffb4b4" stroke-width="0.4"/>
<line x1="67.40" y1="226.38" x2="69.90" y2="226.38" stroke="#ffb4b4" stroke-width="0.4"/>
<line x1="67.40" y1="220.65" x2="69.90" y2="220.65" stroke="#ffb4b4" stroke-width="0.4"/>
<line x1="67.40" y1="214.91" x2="69.90" y2="214.91" stroke="#ffb4b4" stroke-width="0.4"/>
<line x1="67.40" y1="203.45" x2="69.90" y2="203.45" stroke="#ffb4b4" stroke-width="0.4"/>
<line x1="67.40" y1="197.71" x2="69.90" y2="197.71" stroke="#ffb4b4" stroke-width="0.4"/>
<line x1="67.40" y1="191.98" x2="69.90" y2="191.98" stroke="#ffb4b4" stroke-width="0.4"/>
<line x1="67.40" y1="186.24" x2="69.90" y2="186.24" stroke="#ffb4b4" stroke-width="0.4"/>
<line x1="67.40" y1="180.51" x2="69.90" y2="180.51" stroke="#ffb4b4" stroke-width="0.4"/>
<line x1="67.40" y1="174.78" x2="69.90" y2="174.78" stroke="#ffb4b4" stroke-width="0.4"/>
<line x1="67.40" y1="169.04" x2="69.90" y2="169.04" stroke="#ffb4b4" stroke-width="0.4"/>
<line x1="67.40" y1="163.31" x2="69.90" y2="163.31" stroke="#ffb4b4" stroke-width="0.4"/>
<line x1="67.40" y1="157.57" x2="69.90" y2="157.57" stroke="#ffb4b4" stroke-width="0.4"/>
<line x1="67.40" y1="146.11" x2="69.90" y2="146.11" stroke="#ffb4b4" stroke-width="0.4"/>
<line x1="67.40" y1="140.37" x2="69.90" y2="140.37" stroke="#ffb4b4" stroke-width="0.4"/>
<line x1="67.40" y1="134.64" x2="69.90" y2="134.64" stroke="#ffb4b4" stroke-width="0.4"/>
<line x1="67.40" y1="128.90" x2="69.90" y2="128.90" stroke="#ffb4b4" stroke-width="0.4"/>
<line x1="67.40" y1="123.17" x2="69.90" y2="123.17" stroke="#ffb4b4" stroke-width="0.4"/>
<line x1="67.40" y1="117.44" x2="69.90" y2="117.44" stroke="#ffb4b4" stroke-width="0.4"/>
<line x1="67.40" y1="111.70" x2="69.90" y2="111.70" stroke="#ffb4b4" stroke-width="0.4"/>
<line x1="67.40" y1="105.97" x2="69.90" y2="105.97" stroke="#ffb4b4" stroke-width="0.4"/>
<line x1="67.40" y1="100.23" x2="69.90" y2="100.23" stroke="#ffb4b4" stroke-width="0.4"/>
<line x1="67.40" y1="88.77" x2="69.90" y2="88.77" stroke="#ffb4b4" stroke-width="0.4"/>
<line x1="67.40" y1="83.03" x2="69.90" y2="83.03" stroke="#ffb4b4" stroke-width="0.4"/>
<line x1="67.40" y1="77.30" x2="69.90" y2="77.30" stroke="#ffb4b4" stroke-width="0.4"/>
<line x1="67.40" y1="71.56" x2="69.90" y2="71.56" stroke="#ffb4b4" stroke-width="0.4"/>
<line x1="485.40" y1="387.30" x2="481.20" y2="387.30" stroke="#8080ff" stroke-width="0.5"/>
<line x1="485.40" y1="338.65" x2="481.20" y2="338.65" stroke="#8080ff" stroke-width="0.5"/>
<line x1="485.40" y1="290.00" x2="481.20" y2="290.00" stroke="#8080ff" stroke-width="0.5"/>
<line x1="485.40" y1="241.35" x2="481.20" y2="241.35" stroke="#8080ff" stroke-width="0.5"/>
<line x1="485.40" y1="192.70" x2="481.20" y2="192.70" stroke="#8080ff" stroke-width="0.5"/>
<line x1="485.40" y1="144.05" x2="481.20" y2="144.05" stroke="#8080ff" stroke-width="0.5"/>
<line x1="485.40" y1="95.40" x2="481.20" y2="95.40" stroke="#8080ff" stroke-width="0.5"/>
<line x1="485.40" y1="362.98" x2="482.90" y2="362.98" stroke="#b4b4ff" stroke-width="0.4"/>
<line x1="485.40" y1="314.33" x2="482.90" y2="314.33" stroke="#b4b4ff" stroke-width="0.4"/>
<line x1="485.40" y1="265.68" x2="482.90" y2="265.68" stroke="#b4b4ff" stroke-width="0.4"/>
<line x1="485.40" y1="217.03" x2="482.90" y2="217.03" stroke="#b4b4ff" stroke-width="0.4"/>
<line x1="485.40" y1="168.38" x2="482.90" y2="168.38" stroke="#b4b4ff" stroke-width="0.4"/>
<line x1="485.40" y1="119.73" x2="482.90" y2="119.73" stroke="#b4b4ff" stroke-width="0.4"/>
<path transform="translate(30.54,100.70) scale(0.00859,-0.00859)" d="M763 0H583V1147Q518 1085 412.5 1023T223 930V1104Q374 1175 487 1276T647 1472H763V0Z" fill="#ff0000"/>
<text x="40.33" y="100.70" fill="#ff0000" font-size="17.60" font-family="Liberation Sans, sans-serif">0</text>
<text x="50.11" y="93.80" fill="#ff0000" font-size="12.40" font-family="Liberation Sans, sans-serif">6</text>
<path transform="translate(57.01,93.80) scale(0.00605,-0.00605)" d="M763 0H583V1147Q518 1085 412.5 1023T223 930V1104Q374 1175 487 1276T647 1472H763V0Z" fill="#ff0000"/>
<path transform="translate(30.54,158.04) scale(0.00859,-0.00859)" d="M763 0H583V1147Q518 1085 412.5 1023T223 930V1104Q374 1175 487 1276T647 1472H763V0Z" fill="#ff0000"/>
<text x="40.33" y="158.04" fill="#ff0000" font-size="17.60" font-family="Liberation Sans, sans-serif">0</text>
<text x="50.11" y="151.14" fill="#ff0000" font-size="12.40" font-family="Liberation Sans, sans-serif">5</text>
<path transform="translate(57.01,151.14) scale(0.00605,-0.00605)" d="M763 0H583V1147Q518 1085 412.5 1023T223 930V1104Q374 1175 487 1276T647 1472H763V0Z" fill="#ff0000"/>
<path transform="translate(30.54,215.38) scale(0.00859,-0.00859)" d="M763 0H583V1147Q518 1085 412.5 1023T223 930V1104Q374 1175 487 1276T647 1472H763V0Z" fill="#ff0000"/>
<text x="40.33" y="215.38" fill="#ff0000" font-size="17.60" font-family="Liberation Sans, sans-serif">0</text>
<text x="50.11" y="208.48" fill="#ff0000" font-size="12.40" font-family="Liberation Sans, sans-serif">4</text>
<path transform="translate(57.01,208.48) scale(0.00605,-0.00605)" d="M763 0H583V1147Q518 1085 412.5 1023T223 930V1104Q374 1175 487 1276T647 1472H763V0Z" fill="#ff0000"/>
<path transform="translate(30.54,272.72) scale(0.00859,-0.00859)" d="M763 0H583V1147Q518 1085 412.5 1023T223 930V1104Q374 1175 487 1276T647 1472H763V0Z" fill="#ff0000"/>
<text x="40.33" y="272.72" fill="#ff0000" font-size="17.60" font-family="Liberation Sans, sans-serif">0</text>
<text x="50.11" y="265.82" fill="#ff0000" font-size="12.40" font-family="Liberation Sans, sans-serif">3</text>
<path transform="translate(57.01,265.82) scale(0.00605,-0.00605)" d="M763 0H583V1147Q518 1085 412.5 1023T223 930V1104Q374 1175 487 1276T647 1472H763V0Z" fill="#ff0000"/>
<path transform="translate(30.54,330.06) scale(0.00859,-0.00859)" d="M763 0H583V1147Q518 1085 412.5 1023T223 930V1104Q374 1175 487 1276T647 1472H763V0Z" fill="#ff0000"/>
<text x="40.33" y="330.06" fill="#ff0000" font-size="17.60" font-family="Liberation Sans, sans-serif">0</text>
<text x="50.11" y="323.16" fill="#ff0000" font-size="12.40" font-family="Liberation Sans, sans-serif">2</text>
<path transform="translate(57.01,323.16) scale(0.00605,-0.00605)" d="M763 0H583V1147Q518 1085 412.5 1023T223 930V1104Q374 1175 487 1276T647 1472H763V0Z" fill="#ff0000"/>
<path transform="translate(30.54,387.40) scale(0.00859,-0.00859)" d="M763 0H583V1147Q518 1085 412.5 1023T223 930V1104Q374 1175 487 1276T647 1472H763V0Z" fill="#ff0000"/>
<text x="40.33" y="387.40" fill="#ff0000" font-size="17.60" font-family="Liberation Sans, sans-serif">0</text>
<path transform="translate(50.11,380.50) scale(0.00605,-0.00605)" d="M763 0H583V1147Q518 1085 412.5 1023T223 930V1104Q374 1175 487 1276T647 1472H763V0Z" fill="#ff0000"/>
<path transform="translate(57.01,380.50) scale(0.00605,-0.00605)" d="M763 0H583V1147Q518 1085 412.5 1023T223 930V1104Q374 1175 487 1276T647 1472H763V0Z" fill="#ff0000"/>
<path transform="translate(487.50,393.00) scale(0.00803,-0.00803)" d="M763 0H583V1147Q518 1085 412.5 1023T223 930V1104Q374 1175 487 1276T647 1472H763V0Z" fill="#0000ff"/>
<path transform="translate(487.50,344.35) scale(0.00803,-0.00803)" d="M763 0H583V1147Q518 1085 412.5 1023T223 930V1104Q374 1175 487 1276T647 1472H763V0Z" fill="#0000ff"/>
<text x="496.65" y="344.35" fill="#0000ff" font-size="16.45" font-family="Liberation Sans, sans-serif">00</text>
<path transform="translate(487.50,295.70) scale(0.00803,-0.00803)" d="M763 0H583V1147Q518 1085 412.5 1023T223 930V1104Q374 1175 487 1276T647 1472H763V0Z" fill="#0000ff"/>
<text x="496.65" y="295.70" fill="#0000ff" font-size="16.45" font-family="Liberation Sans, sans-serif">0</text>
<text x="506.69" y="289.25" fill="#0000ff" font-size="11.60" font-family="Liberation Sans, sans-serif">4</text>
<path transform="translate(487.50,247.05) scale(0.00803,-0.00803)" d="M763 0H583V1147Q518 1085 412.5 1023T223 930V1104Q374 1175 487 1276T647 1472H763V0Z" fill="#0000ff"/>
<text x="496.65" y="247.05" fill="#0000ff" font-size="16.45" font-family="Liberation Sans, sans-serif">0</text>
<text x="506.69" y="240.60" fill="#0000ff" font-size="11.60" font-family="Liberation Sans, sans-serif">6</text>
<path transform="translate(487.50,198.40) scale(0.00803,-0.00803)" d="M763 0H583V1147Q518 1085 412.5 1023T223 930V1104Q374 1175 487 1276T647 1472H763V0Z" fill="#0000ff"/>
<text x="496.65" y="198.40" fill="#0000ff" font-size="16.45" font-family="Liberation Sans, sans-serif">0</text>
<text x="506.69" y="191.95" fill="#0000ff" font-size="11.60" font-family="Liberation Sans, sans-serif">8</text>
<path transform="translate(487.50,149.75) scale(0.00803,-0.00803)" d="M763 0H583V1147Q518 1085 412.5 1023T223 930V1104Q374 1175 487 1276T647 1472H763V0Z" fill="#0000ff"/>
<text x="496.65" y="149.75" fill="#0000ff" font-size="16.45" font-family="Liberation Sans, sans-serif">0</text>
<path transform="translate(506.69,143.30) scale(0.00566,-0.00566)" d="M763 0H583V1147Q518 1085 412.5 1023T223 930V1104Q374 1175 487 1276T647 1472H763V0Z" fill="#0000ff"/>
<text x="513.14" y="143.30" fill="#0000ff" font-size="11.60" font-family="Liberation Sans, sans-serif">0</text>
<path transform="translate(487.50,101.10) scale(0.00803,-0.00803)" d="M763 0H583V1147Q518 1085 412.5 1023T223 930V1104Q374 1175 487 1276T647 1472H763V0Z" fill="#0000ff"/>
<text x="496.65" y="101.10" fill="#0000ff" font-size="16.45" font-family="Liberation Sans, sans-serif">0</text>
<path transform="translate(506.69,94.65) scale(0.00566,-0.00566)" d="M763 0H583V1147Q518 1085 412.5 1023T223 930V1104Q374 1175 487 1276T647 1472H763V0Z" fill="#0000ff"/>
<text x="513.14" y="94.65" fill="#0000ff" font-size="11.60" font-family="Liberation Sans, sans-serif">2</text>
<path transform="translate(81.26,406.50) scale(0.00859,-0.00859)" d="M763 0H583V1147Q518 1085 412.5 1023T223 930V1104Q374 1175 487 1276T647 1472H763V0Z" fill="#000"/>
<path transform="translate(143.91,406.50) scale(0.00859,-0.00859)" d="M763 0H583V1147Q518 1085 412.5 1023T223 930V1104Q374 1175 487 1276T647 1472H763V0Z" fill="#000"/>
<text x="153.70" y="406.50" fill="#000" font-size="17.60" font-family="Liberation Sans, sans-serif">00</text>
<path transform="translate(217.80,406.50) scale(0.00859,-0.00859)" d="M763 0H583V1147Q518 1085 412.5 1023T223 930V1104Q374 1175 487 1276T647 1472H763V0Z" fill="#000"/>
<text x="227.58" y="406.50" fill="#000" font-size="17.60" font-family="Liberation Sans, sans-serif">0</text>
<text x="237.37" y="399.60" fill="#000" font-size="12.40" font-family="Liberation Sans, sans-serif">4</text>
<path transform="translate(290.24,406.50) scale(0.00859,-0.00859)" d="M763 0H583V1147Q518 1085 412.5 1023T223 930V1104Q374 1175 487 1276T647 1472H763V0Z" fill="#000"/>
<text x="300.02" y="406.50" fill="#000" font-size="17.60" font-family="Liberation Sans, sans-serif">0</text>
<text x="309.81" y="399.60" fill="#000" font-size="12.40" font-family="Liberation Sans, sans-serif">6</text>
<path transform="translate(362.68,406.50) scale(0.00859,-0.00859)" d="M763 0H583V1147Q518 1085 412.5 1023T223 930V1104Q374 1175 487 1276T647 1472H763V0Z" fill="#000"/>
<text x="372.46" y="406.50" fill="#000" font-size="17.60" font-family="Liberation Sans, sans-serif">0</text>
<text x="382.25" y="399.60" fill="#000" font-size="12.40" font-family="Liberation Sans, sans-serif">8</text>
<path transform="translate(431.67,406.50) scale(0.00859,-0.00859)" d="M763 0H583V1147Q518 1085 412.5 1023T223 930V1104Q374 1175 487 1276T647 1472H763V0Z" fill="#000"/>
<text x="441.46" y="406.50" fill="#000" font-size="17.60" font-family="Liberation Sans, sans-serif">0</text>
<path transform="translate(451.24,399.60) scale(0.00605,-0.00605)" d="M763 0H583V1147Q518 1085 412.5 1023T223 930V1104Q374 1175 487 1276T647 1472H763V0Z" fill="#000"/>
<text x="458.14" y="399.60" fill="#000" font-size="12.40" font-family="Liberation Sans, sans-serif">0</text>
<g transform="translate(21.50,266.30) rotate(-90) scale(0.01950,-0.01950)" fill="none" stroke="#ff0000" stroke-linecap="round" stroke-linejoin="round">
<path transform="matrix(1,0,0.12,1,0.8,0.0)" d="M40,-160 L85,280 C95,420 180,510 300,505 C420,500 490,400 485,270 C480,135 400,40 290,40 C195,40 115,95 80,200" stroke-width="74"/>
<path transform="matrix(1,0,0,1,831.3,0.0)" d="M245,690 L130,690 L130,-150 L245,-150" stroke-width="97"/>
<path transform="matrix(1,0,0.27,1,1110.3,0.0)" d="M565,600 C515,690 430,728 345,725 C190,718 85,570 85,378 C85,178 185,45 340,45 C480,45 590,150 597,335 L270,335" stroke-width="97"/>
<path transform="matrix(1,0,0.27,1,1766.8,0.0)" d="M95,250 L455,315 C463,420 380,497 275,495 C160,490 82,392 82,262 C82,132 160,45 282,45 C365,45 425,80 465,140" stroke-width="97"/>
<path transform="matrix(1,0,0.06,1,2350.7,0.0)" d="M75,722 L335,8 L580,722" stroke-width="97"/>
<path transform="matrix(0.66,0,0,0.66,2964.8,472.0)" d="M430,45 L430,720 L65,245 L570,245" stroke-width="106"/>
<path transform="matrix(1,0,0,1,3445.7,0.0)" d="M131,690 L246,690 L246,-150 L131,-150" stroke-width="97"/>
</g>
<g transform="translate(540.10,266.30) rotate(-90) scale(0.01950,-0.01950)" fill="none" stroke="#0000ff" stroke-linecap="round" stroke-linejoin="round">
<path transform="matrix(0.93,0,0,0.93,235.4,0.0)" d="M45,712 L640,712 M345,712 L345,45" stroke-width="108"/>
<path transform="matrix(1,0,0,1,1171.3,0.0)" d="M245,690 L130,690 L130,-150 L245,-150" stroke-width="100"/>
<path transform="matrix(1,0,0.27,1,1414.4,0.0)" d="M565,600 C515,690 430,728 345,725 C190,718 85,570 85,378 C85,178 185,45 340,45 C480,45 590,150 597,335 L270,335" stroke-width="100"/>
<path transform="matrix(1,0,0.27,1,2075.9,0.0)" d="M95,250 L455,315 C463,420 380,497 275,495 C160,490 82,392 82,262 C82,132 160,45 282,45 C365,45 425,80 465,140" stroke-width="100"/>
<path transform="matrix(1,0,0.06,1,2670.1,0.0)" d="M75,722 L335,8 L580,722" stroke-width="100"/>
<path transform="matrix(1,0,0,1,3278.0,0.0)" d="M131,690 L246,690 L246,-150 L131,-150" stroke-width="100"/>
</g>
<g transform="translate(270.00,432.80) rotate(0) scale(0.01800,-0.01800)" fill="none" stroke="#000" stroke-linecap="round" stroke-linejoin="round">
<path transform="matrix(1,0,0.15,1,-18.8,0.0)" d="M70,45 L350,722 L372,722 L660,45 M175,270 L570,270" stroke-width="116"/>
</g>
<g transform="translate(388.20,149.00) rotate(-90) scale(0.01500,-0.01500)" fill="none" stroke="#000" stroke-linecap="round" stroke-linejoin="round">
<path transform="matrix(1,0,0,1,-22.5,0.0)" d="M70,45 L350,722 L372,722 L660,45 M175,270 L570,270" stroke-width="95"/>
<path transform="matrix(1,0,0,1,1040.8,0.0)" d="M80,425 L430,425 M80,215 L430,215" stroke-width="95"/>
<path transform="matrix(1,0,0.15,1,1977.4,0.0)" d="M70,45 L350,722 L372,722 L660,45 M175,270 L570,270" stroke-width="95"/>
<path transform="matrix(0.75,0,0,0.75,2671.2,-60.0)" d="M105,490 L105,45 M105,320 C150,430 250,505 400,470" stroke-width="107"/>
<path transform="matrix(0.75,0,0,0.75,3048.5,-60.0)" d="M95,250 L455,315 C463,420 380,497 275,495 C160,490 82,392 82,262 C82,132 160,45 282,45 C365,45 425,80 465,140" stroke-width="107"/>
</g>
<g transform="translate(101.50,262.80) rotate(0) scale(0.01420,-0.01420)" fill="none" stroke="#000" stroke-linecap="round" stroke-linejoin="round">
<path transform="matrix(1,0,0.15,1,-44.3,0.0)" d="M50,490 L195,45 L340,410 L490,45 L640,490" stroke-width="102"/>
<path transform="matrix(0.78,0,0.156,0.78,653.5,-150.0)" d="M265,-180 L265,530 M265,490 C130,490 50,390 50,265 C50,140 130,45 265,45 C400,45 480,140 480,265 C480,390 400,490 265,490" stroke-width="79"/>
<path transform="matrix(1,0,0,1,1217.5,0.0)" d="M80,425 L430,425 M80,215 L430,215" stroke-width="102"/>
<path transform="matrix(1,0,0,1,1783.8,0.0)" d="M295,725 C150,725 70,575 70,385 C70,195 150,45 295,45 C440,45 520,195 520,385 C520,575 440,725 295,725 Z" stroke-width="102"/>
<path transform="matrix(1,0,0,1,2373.8,0.0)" d="M125,55 L125,56" stroke-width="133"/>
<path transform="matrix(1,0,0,1,2622.8,0.0)" d="M295,725 C150,725 70,575 70,385 C70,195 150,45 295,45 C440,45 520,195 520,385 C520,575 440,725 295,725 Z" stroke-width="102"/>
<path transform="matrix(1,0,0,1,4101.6,0.0)" d="M55,490 L255,70 M470,490 L175,-210" stroke-width="102"/>
<path transform="matrix(1,0,0,1,4703.4,0.0)" d="M80,425 L430,425 M80,215 L430,215" stroke-width="102"/>
<path transform="matrix(1,0,0,1,5279.7,0.0)" d="M80,570 L215,720 L215,45 M60,45 L350,45" stroke-width="102"/>
<path transform="matrix(1,0,0,1,5664.7,0.0)" d="M295,725 C150,725 70,575 70,385 C70,195 150,45 295,45 C440,45 520,195 520,385 C520,575 440,725 295,725 Z" stroke-width="102"/>
<path transform="matrix(0.7,0,0,0.7,6289.7,450.0)" d="M95,330 L465,330" stroke-width="103"/>
<path transform="matrix(0.7,0,0,0.7,6662.9,450.0)" d="M445,720 C255,650 85,455 85,250 C85,125 180,45 300,45 C420,45 512,130 512,250 C512,365 420,440 310,440 C210,440 130,385 92,300" stroke-width="103"/>
<path transform="matrix(1,0,0.15,1,7807.7,0.0)" d="M45,712 L640,712 M345,712 L345,45" stroke-width="102"/>
<path transform="matrix(0.72,0,0,0.72,8479.6,-150.0)" d="M105,490 L105,45 M105,320 C150,430 250,505 400,470" stroke-width="104"/>
<path transform="matrix(0.72,0,0,0.72,8834.2,-150.0)" d="M95,250 L455,315 C463,420 380,497 275,495 C160,490 82,392 82,262 C82,132 160,45 282,45 C365,45 425,80 465,140" stroke-width="104"/>
<path transform="matrix(1,0,0,1,9309.0,0.0)" d="M80,425 L430,425 M80,215 L430,215" stroke-width="102"/>
<path transform="matrix(1,0,0,1,9920.6,0.0)" d="M80,570 L215,720 L215,45 M60,45 L350,45" stroke-width="102"/>
<path transform="matrix(1,0,0,1,10305.6,0.0)" d="M295,725 C150,725 70,575 70,385 C70,195 150,45 295,45 C440,45 520,195 520,385 C520,575 440,725 295,725 Z" stroke-width="102"/>
<path transform="matrix(0.78,0,0,0.78,11003.3,450.0)" d="M505,500 C480,385 395,320 295,320 C180,320 88,400 88,520 C88,640 180,725 300,725 C420,725 512,640 512,500 C512,300 430,125 255,45" stroke-width="97"/>
<path transform="matrix(1,0,0.27,1,11481.3,0.0)" d="M565,600 C515,690 430,728 345,725 C190,718 85,570 85,378 C85,178 185,45 340,45 C480,45 590,150 597,335 L270,335" stroke-width="102"/>
<path transform="matrix(1,0,0.27,1,12160.3,0.0)" d="M95,250 L455,315 C463,420 380,497 275,495 C160,490 82,392 82,262 C82,132 160,45 282,45 C365,45 425,80 465,140" stroke-width="102"/>
<path transform="matrix(1,0,0.06,1,12708.3,0.0)" d="M75,722 L335,8 L580,722" stroke-width="102"/>
</g>
<text x="148.3" y="263.4" font-size="10.5" fill="#707070" font-family="Liberation Sans, sans-serif">,</text>
<text x="204.8" y="263.4" font-size="10.5" fill="#707070" font-family="Liberation Sans, sans-serif">,</text>
<line x1="140.50" y1="285.30" x2="177.20" y2="285.30" stroke="#ff0000" stroke-width="1.5" stroke-dasharray="4.6 1.88"/>
<line x1="140.50" y1="306.40" x2="177.20" y2="306.40" stroke="#ff0000" stroke-width="1.5"/>
<line x1="140.50" y1="329.60" x2="177.20" y2="329.60" stroke="#0000ff" stroke-width="1.5"/>
<g transform="translate(185.60,289.60) rotate(0) scale(0.01550,-0.01550)" fill="none" stroke="#000" stroke-linecap="round" stroke-linejoin="round">
<path transform="matrix(1,0,0.12,1,20.2,0.0)" d="M40,-160 L85,280 C95,420 180,510 300,505 C420,500 490,400 485,270 C480,135 400,40 290,40 C195,40 115,95 80,200" stroke-width="82"/>
<path transform="matrix(0.58,0,0.116,0.58,570.7,-70.0)" d="M265,-20 L265,560 M265,490 C130,490 50,390 50,265 C50,140 130,45 265,45 C400,45 480,140 480,265 C480,390 400,490 265,490" stroke-width="95"/>
</g>
<g transform="translate(185.60,310.20) rotate(0) scale(0.01550,-0.01550)" fill="none" stroke="#000" stroke-linecap="round" stroke-linejoin="round">
<path transform="matrix(1,0,0.12,1,20.2,0.0)" d="M40,-160 L85,280 C95,420 180,510 300,505 C420,500 490,400 485,270 C480,135 400,40 290,40 C195,40 115,95 80,200" stroke-width="82"/>
<path transform="matrix(0.72,0,0.108,0.72,536.5,-160.0)" d="M110,45 L110,712 C300,742 525,690 525,545 C525,410 330,352 125,352 L565,45" stroke-width="104"/>
</g>
<g transform="translate(185.60,333.10) rotate(0) scale(0.01450,-0.01450)" fill="none" stroke="#000" stroke-linecap="round" stroke-linejoin="round">
<path transform="matrix(1,0,0,1,60.2,0.0)" d="M45,712 L640,712 M345,712 L345,45" stroke-width="100"/>
</g>
<line x1="636.20" y1="78.20" x2="636.20" y2="379.90" stroke="#ff4040" stroke-width="1.5"/>
<line x1="1035.05" y1="78.20" x2="1035.05" y2="379.90" stroke="#7070ff" stroke-width="1.1"/>
<line x1="635.50" y1="78.20" x2="1035.55" y2="78.20" stroke="#000" stroke-width="1.3"/>
<line x1="635.50" y1="379.30" x2="1035.55" y2="379.30" stroke="#000" stroke-width="1.3"/>
<g clip-path="url(#cr)" fill="none" stroke-linejoin="round">
<path d="M650.7,84.8 L651.0,85.0 L651.2,85.2 L651.5,85.4 L651.7,85.6 L652.0,85.8 L652.2,86.0 L652.5,86.1 L652.7,86.3 L653.0,86.5 L653.2,86.7 L653.5,86.9 L653.7,87.1 L654.0,87.3 L654.2,87.5 L654.5,87.7 L654.7,87.9 L655.0,88.1 L655.2,88.3 L655.5,88.5 L655.7,88.7 L656.0,88.9 L656.2,89.1 L656.5,89.3 L656.7,89.5 L657.0,89.7 L657.2,89.8 L657.5,90.0 L657.7,90.2 L658.0,90.4 L658.2,90.6 L658.5,90.8 L658.7,91.0 L659.0,91.2 L659.2,91.4 L659.5,91.6 L659.7,91.8 L660.0,92.0 L660.2,92.2 L660.5,92.4 L660.7,92.6 L661.0,92.8 L661.2,93.0 L661.5,93.2 L661.7,93.4 L662.0,93.5 L662.2,93.7 L662.5,93.9 L662.7,94.1 L663.0,94.3 L663.2,94.5 L663.5,94.7 L663.7,94.9 L664.0,95.1 L664.2,95.3 L664.5,95.5 L664.7,95.7 L665.0,95.9 L665.2,96.1 L665.5,96.3 L665.7,96.5 L666.0,96.7 L666.2,96.9 L666.5,97.1 L666.7,97.2 L667.0,97.4 L667.2,97.6 L667.5,97.8 L667.7,98.0 L668.0,98.2 L668.2,98.4 L668.5,98.6 L668.7,98.8 L669.0,99.0 L669.2,99.2 L669.5,99.4 L669.7,99.6 L670.0,99.8 L670.2,100.0 L670.5,100.2 L670.7,100.4 L671.0,100.6 L671.2,100.8 L671.5,100.9 L671.7,101.1 L672.0,101.3 L672.2,101.5 L672.5,101.7 L672.7,101.9 L673.0,102.1 L673.2,102.3 L673.5,102.5 L673.7,102.7 L674.0,102.9 L674.2,103.1 L674.5,103.3 L674.7,103.5 L675.0,103.7 L675.2,103.9 L675.5,104.1 L675.7,104.3 L676.0,104.5 L676.2,104.6 L676.5,104.8 L676.7,105.0 L677.0,105.2 L677.2,105.4 L677.5,105.6 L677.7,105.8 L678.0,106.0 L678.2,106.2 L678.5,106.4 L678.7,106.6 L679.0,106.8 L679.2,107.0 L679.5,107.2 L679.7,107.4 L680.0,107.6 L680.2,107.8 L680.5,108.0 L680.7,108.2 L681.0,108.4 L681.2,108.5 L681.5,108.7 L681.7,108.9 L682.0,109.1 L682.2,109.3 L682.5,109.5 L682.7,109.7 L683.0,109.9 L683.2,110.1 L683.5,110.3 L683.7,110.5 L684.0,110.7 L684.2,110.9 L684.5,111.1 L684.7,111.3 L685.0,111.5 L685.2,111.7 L685.5,111.9 L685.7,112.1 L686.0,112.2 L686.2,112.4 L686.5,112.6 L686.7,112.8 L687.0,113.0 L687.2,113.2 L687.5,113.4 L687.7,113.6 L688.0,113.8 L688.2,114.0 L688.5,114.2 L688.7,114.4 L689.0,114.6 L689.2,114.8 L689.5,115.0 L689.7,115.2 L690.0,115.4 L690.2,115.6 L690.5,115.8 L690.7,115.9 L691.0,116.1 L691.2,116.3 L691.5,116.5 L691.7,116.7 L692.0,116.9 L692.2,117.1 L692.5,117.3 L692.7,117.5 L693.0,117.7 L693.2,117.9 L693.5,118.1 L693.7,118.3 L694.0,118.5 L694.2,118.7 L694.5,118.9 L694.7,119.1 L695.0,119.3 L695.2,119.5 L695.5,119.6 L695.7,119.8 L696.0,120.0 L696.2,120.2 L696.5,120.4 L696.7,120.6 L697.0,120.8 L697.2,121.0 L697.5,121.2 L697.7,121.4 L698.0,121.6 L698.2,121.8 L698.5,122.0 L698.7,122.2 L699.0,122.4 L699.2,122.6 L699.5,122.8 L699.7,123.0 L700.0,123.2 L700.2,123.3 L700.5,123.5 L700.7,123.7 L701.0,123.9 L701.2,124.1 L701.5,124.3 L701.7,124.5 L702.0,124.7 L702.2,124.9 L702.5,125.1 L702.7,125.3 L703.0,125.5 L703.2,125.7 L703.5,125.9 L703.7,126.1 L704.0,126.3 L704.2,126.5 L704.5,126.7 L704.7,126.9 L705.0,127.0 L705.2,127.2 L705.5,127.4 L705.7,127.6 L706.0,127.8 L706.2,128.0 L706.5,128.2 L706.7,128.4 L707.0,128.6 L707.2,128.8 L707.5,129.0 L707.7,129.2 L708.0,129.4 L708.2,129.6 L708.5,129.8 L708.7,130.0 L709.0,130.2 L709.2,130.4 L709.5,130.6 L709.7,130.7 L710.0,130.9 L710.2,131.1 L710.5,131.3 L710.7,131.5 L711.0,131.7 L711.2,131.9 L711.5,132.1 L711.7,132.3 L712.0,132.5 L712.2,132.7 L712.5,132.9 L712.7,133.1 L713.0,133.3 L713.2,133.5 L713.5,133.7 L713.7,133.9 L714.0,134.1 L714.2,134.3 L714.5,134.4 L714.7,134.6 L715.0,134.8 L715.2,135.0 L715.5,135.2 L715.7,135.4 L716.0,135.6 L716.2,135.8 L716.5,136.0 L716.7,136.2 L717.0,136.4 L717.2,136.6 L717.5,136.8 L717.7,137.0 L718.0,137.2 L718.2,137.4 L718.5,137.6 L718.7,137.8 L719.0,138.0 L719.2,138.1 L719.5,138.3 L719.7,138.5 L720.0,138.7 L720.2,138.9 L720.5,139.1 L720.7,139.3 L721.0,139.5 L721.2,139.7 L721.5,139.9 L721.7,140.1 L722.0,140.3 L722.2,140.5 L722.5,140.7 L722.7,140.9 L723.0,141.1 L723.2,141.3 L723.5,141.5 L723.7,141.7 L724.0,141.8 L724.2,142.0 L724.5,142.2 L724.7,142.4 L725.0,142.6 L725.2,142.8 L725.5,143.0 L725.7,143.2 L726.0,143.4 L726.2,143.6 L726.5,143.8 L726.7,144.0 L727.0,144.2 L727.2,144.4 L727.5,144.6 L727.7,144.8 L728.0,145.0 L728.2,145.2 L728.5,145.4 L728.7,145.5 L729.0,145.7 L729.2,145.9 L729.5,146.1 L729.7,146.3 L730.0,146.5 L730.2,146.7 L730.5,146.9 L730.7,147.1 L731.0,147.3 L731.2,147.5 L731.5,147.7 L731.7,147.9 L732.0,148.1 L732.2,148.3 L732.5,148.5 L732.7,148.7 L733.0,148.9 L733.2,149.1 L733.5,149.2 L733.7,149.4 L734.0,149.6 L734.2,149.8 L734.5,150.0 L734.7,150.2 L735.0,150.4 L735.2,150.6 L735.5,150.8 L735.7,151.0 L736.0,151.2 L736.2,151.4 L736.5,151.6 L736.7,151.8 L737.0,152.0 L737.2,152.2 L737.5,152.4 L737.7,152.6 L738.0,152.8 L738.2,152.9 L738.5,153.1 L738.7,153.3 L739.0,153.5 L739.2,153.7 L739.5,153.9 L739.7,154.1 L740.0,154.3 L740.2,154.5 L740.5,154.7 L740.7,154.9 L741.0,155.1 L741.2,155.3 L741.5,155.5 L741.7,155.7 L742.0,155.9 L742.2,156.1 L742.5,156.3 L742.7,156.5 L743.0,156.6 L743.2,156.8 L743.5,157.0 L743.7,157.2 L744.0,157.4 L744.2,157.6 L744.5,157.8 L744.7,158.0 L745.0,158.2 L745.2,158.4 L745.5,158.6 L745.7,158.8 L746.0,159.0 L746.2,159.2 L746.5,159.4 L746.7,159.6 L747.0,159.8 L747.2,160.0 L747.5,160.2 L747.7,160.3 L748.0,160.5 L748.2,160.7 L748.5,160.9 L748.7,161.1 L749.0,161.3 L749.2,161.5 L749.5,161.7 L749.7,161.9 L750.0,162.1 L750.2,162.3 L750.5,162.5 L750.7,162.7 L751.0,162.9 L751.2,163.1 L751.5,163.3 L751.7,163.5 L752.0,163.7 L752.2,163.9 L752.5,164.0 L752.7,164.2 L753.0,164.4 L753.2,164.6 L753.5,164.8 L753.7,165.0 L754.0,165.2 L754.2,165.4 L754.5,165.6 L754.7,165.8 L755.0,166.0 L755.2,166.2 L755.5,166.4 L755.7,166.6 L756.0,166.8 L756.2,167.0 L756.5,167.2 L756.7,167.4 L757.0,167.6 L757.2,167.7 L757.5,167.9 L757.7,168.1 L758.0,168.3 L758.2,168.5 L758.5,168.7 L758.7,168.9 L759.0,169.1 L759.2,169.3 L759.5,169.5 L759.7,169.7 L760.0,169.9 L760.2,170.1 L760.5,170.3 L760.7,170.5 L761.0,170.7 L761.2,170.9 L761.5,171.1 L761.7,171.3 L762.0,171.4 L762.2,171.6 L762.5,171.8 L762.7,172.0 L763.0,172.2 L763.2,172.4 L763.5,172.6 L763.7,172.8 L764.0,173.0 L764.2,173.2 L764.5,173.4 L764.7,173.6 L765.0,173.8 L765.2,174.0 L765.5,174.2 L765.7,174.4 L766.0,174.6 L766.2,174.8 L766.5,175.0 L766.7,175.1 L767.0,175.3 L767.2,175.5 L767.5,175.7 L767.7,175.9 L768.0,176.1 L768.2,176.3 L768.5,176.5 L768.7,176.7 L769.0,176.9 L769.2,177.1 L769.5,177.3 L769.7,177.5 L770.0,177.7 L770.2,177.9 L770.5,178.1 L770.7,178.3 L771.0,178.5 L771.2,178.7 L771.5,178.8 L771.7,179.0 L772.0,179.2 L772.2,179.4 L772.5,179.6 L772.7,179.8 L773.0,180.0 L773.2,180.2 L773.5,180.4 L773.7,180.6 L774.0,180.8 L774.2,181.0 L774.5,181.2 L774.7,181.4 L775.0,181.6 L775.2,181.8 L775.5,182.0 L775.7,182.2 L776.0,182.4 L776.2,182.5 L776.5,182.7 L776.7,182.9 L777.0,183.1 L777.2,183.3 L777.5,183.5 L777.7,183.7 L778.0,183.9 L778.2,184.1 L778.5,184.3 L778.7,184.5 L779.0,184.7 L779.2,184.9 L779.5,185.1 L779.7,185.3 L780.0,185.5 L780.2,185.7 L780.5,185.9 L780.7,186.1 L781.0,186.3 L781.2,186.4 L781.5,186.6 L781.7,186.8 L782.0,187.0 L782.2,187.2 L782.5,187.4 L782.7,187.6 L783.0,187.8 L783.2,188.0 L783.5,188.2 L783.7,188.4 L784.0,188.6 L784.2,188.8 L784.5,189.0 L784.7,189.2 L785.0,189.4 L785.2,189.6 L785.5,189.8 L785.7,190.0 L786.0,190.1 L786.2,190.3 L786.5,190.5 L786.7,190.7 L787.0,190.9 L787.2,191.1 L787.5,191.3 L787.7,191.5 L788.0,191.7 L788.2,191.9 L788.5,192.1 L788.7,192.3 L789.0,192.5 L789.2,192.7 L789.5,192.9 L789.7,193.1 L790.0,193.3 L790.2,193.5 L790.5,193.7 L790.7,193.8 L791.0,194.0 L791.2,194.2 L791.5,194.4 L791.7,194.6 L792.0,194.8 L792.2,195.0 L792.5,195.2 L792.7,195.4 L793.0,195.6 L793.2,195.8 L793.5,196.0 L793.7,196.2 L794.0,196.4 L794.2,196.6 L794.5,196.8 L794.7,197.0 L795.0,197.2 L795.2,197.4 L795.5,197.5 L795.7,197.7 L796.0,197.9 L796.2,198.1 L796.5,198.3 L796.7,198.5 L797.0,198.7 L797.2,198.9 L797.5,199.1 L797.7,199.3 L798.0,199.5 L798.2,199.7 L798.5,199.9 L798.7,200.1 L799.0,200.3 L799.2,200.5 L799.5,200.7 L799.7,200.9 L800.0,201.1 L800.2,201.2 L800.5,201.4 L800.7,201.6 L801.0,201.8 L801.2,202.0 L801.5,202.2 L801.7,202.4 L802.0,202.6 L802.2,202.8 L802.5,203.0 L802.7,203.2 L803.0,203.4 L803.2,203.6 L803.5,203.8 L803.7,204.0 L804.0,204.2 L804.2,204.4 L804.5,204.6 L804.7,204.8 L805.0,204.9 L805.2,205.1 L805.5,205.3 L805.7,205.5 L806.0,205.7 L806.2,205.9 L806.5,206.1 L806.7,206.3 L807.0,206.5 L807.2,206.7 L807.5,206.9 L807.7,207.1 L808.0,207.3 L808.2,207.5 L808.5,207.7 L808.7,207.9 L809.0,208.1 L809.2,208.3 L809.5,208.5 L809.7,208.6 L810.0,208.8 L810.2,209.0 L810.5,209.2 L810.7,209.4 L811.0,209.6 L811.2,209.8 L811.5,210.0 L811.7,210.2 L812.0,210.4 L812.2,210.6 L812.5,210.8 L812.7,211.0 L813.0,211.2 L813.2,211.4 L813.5,211.6 L813.7,211.8 L814.0,212.0 L814.2,212.2 L814.5,212.3 L814.7,212.5 L815.0,212.7 L815.2,212.9 L815.5,213.1 L815.7,213.3 L816.0,213.5 L816.2,213.7 L816.5,213.9 L816.7,214.1 L817.0,214.3 L817.2,214.5 L817.5,214.7 L817.7,214.9 L818.0,215.1 L818.2,215.3 L818.5,215.5 L818.7,215.7 L819.0,215.9 L819.2,216.0 L819.5,216.2 L819.7,216.4 L820.0,216.6 L820.2,216.8 L820.5,217.0 L820.7,217.2 L821.0,217.4 L821.2,217.6 L821.5,217.8 L821.7,218.0 L822.0,218.2 L822.2,218.4 L822.5,218.6 L822.7,218.8 L823.0,219.0 L823.2,219.2 L823.5,219.4 L823.7,219.6 L824.0,219.7 L824.2,219.9 L824.5,220.1 L824.7,220.3 L825.0,220.5 L825.2,220.7 L825.5,220.9 L825.7,221.1 L826.0,221.3 L826.2,221.5 L826.5,221.7 L826.7,221.9 L827.0,222.1 L827.2,222.3 L827.5,222.5 L827.7,222.7 L828.0,222.9 L828.2,223.1 L828.5,223.3 L828.7,223.4 L829.0,223.6 L829.2,223.8 L829.5,224.0 L829.7,224.2 L830.0,224.4 L830.2,224.6 L830.5,224.8 L830.7,225.0 L831.0,225.2 L831.2,225.4 L831.5,225.6 L831.7,225.8 L832.0,226.0 L832.2,226.2 L832.5,226.4 L832.7,226.6 L833.0,226.8 L833.2,227.0 L833.5,227.1 L833.7,227.3 L834.0,227.5 L834.2,227.7 L834.5,227.9 L834.7,228.1 L835.0,228.3 L835.2,228.5 L835.5,228.7 L835.7,228.9 L836.0,229.1 L836.2,229.3 L836.5,229.5 L836.7,229.7 L837.0,229.9 L837.2,230.1 L837.5,230.3 L837.7,230.5 L838.0,230.7 L838.2,230.8 L838.5,231.0 L838.7,231.2 L839.0,231.4 L839.2,231.6 L839.5,231.8 L839.7,232.0 L840.0,232.2 L840.2,232.4 L840.5,232.6 L840.7,232.8 L841.0,233.0 L841.2,233.2 L841.5,233.4 L841.7,233.6 L842.0,233.8 L842.2,234.0 L842.5,234.2 L842.7,234.4 L843.0,234.5 L843.2,234.7 L843.5,234.9 L843.7,235.1 L844.0,235.3 L844.2,235.5 L844.5,235.7 L844.7,235.9 L845.0,236.1 L845.2,236.3 L845.5,236.5 L845.7,236.7 L846.0,236.9 L846.2,237.1 L846.5,237.3 L846.7,237.5 L847.0,237.7 L847.2,237.9 L847.5,238.1 L847.7,238.2 L848.0,238.4 L848.2,238.6 L848.5,238.8 L848.7,239.0 L849.0,239.2 L849.2,239.4 L849.5,239.6 L849.7,239.8 L850.0,240.0 L850.2,240.2 L850.5,240.4 L850.7,240.6 L851.0,240.8 L851.2,241.0 L851.5,241.2 L851.7,241.4 L852.0,241.6 L852.2,241.8 L852.5,241.9 L852.7,242.1 L853.0,242.3 L853.2,242.5 L853.5,242.7 L853.7,242.9 L854.0,243.1 L854.2,243.3 L854.5,243.5 L854.7,243.7 L855.0,243.9 L855.2,244.1 L855.5,244.3 L855.7,244.5 L856.0,244.7 L856.2,244.9 L856.5,245.1 L856.7,245.3 L857.0,245.5 L857.2,245.6 L857.5,245.8 L857.7,246.0 L858.0,246.2 L858.2,246.4 L858.5,246.6 L858.7,246.8 L859.0,247.0 L859.2,247.2 L859.5,247.4 L859.7,247.6 L860.0,247.8 L860.2,248.0 L860.5,248.2 L860.7,248.4 L861.0,248.6 L861.2,248.8 L861.5,249.0 L861.7,249.2 L862.0,249.3 L862.2,249.5 L862.5,249.7 L862.7,249.9 L863.0,250.1 L863.2,250.3 L863.5,250.5 L863.7,250.7 L864.0,250.9 L864.2,251.1 L864.5,251.3 L864.7,251.5 L865.0,251.7 L865.2,251.9 L865.5,252.1 L865.7,252.3 L866.0,252.5 L866.2,252.7 L866.5,252.9 L866.7,253.0 L867.0,253.2 L867.2,253.4 L867.5,253.6 L867.7,253.8 L868.0,254.0 L868.2,254.2 L868.5,254.4 L868.7,254.6 L869.0,254.8 L869.2,255.0 L869.5,255.2 L869.7,255.4 L870.0,255.6 L870.2,255.8 L870.5,256.0 L870.7,256.2 L871.0,256.4 L871.2,256.6 L871.5,256.7 L871.7,256.9 L872.0,257.1 L872.2,257.3 L872.5,257.5 L872.7,257.7 L873.0,257.9 L873.2,258.1 L873.5,258.3 L873.7,258.5 L874.0,258.7 L874.2,258.9 L874.5,259.1 L874.7,259.3 L875.0,259.5 L875.2,259.7 L875.5,259.9 L875.7,260.1 L876.0,260.3 L876.2,260.4 L876.5,260.6 L876.7,260.8 L877.0,261.0 L877.2,261.2 L877.5,261.4 L877.7,261.6 L878.0,261.8 L878.2,262.0 L878.5,262.2 L878.7,262.4 L879.0,262.6 L879.2,262.8 L879.5,263.0 L879.7,263.2 L880.0,263.4 L880.2,263.6 L880.5,263.8 L880.7,264.0 L881.0,264.2 L881.2,264.3 L881.5,264.5 L881.7,264.7 L882.0,264.9 L882.2,265.1 L882.5,265.3 L882.7,265.5 L883.0,265.7 L883.2,265.9 L883.5,266.1 L883.7,266.3 L884.0,266.5 L884.2,266.7 L884.5,266.9 L884.7,267.1 L885.0,267.3 L885.2,267.5 L885.5,267.7 L885.7,267.9 L886.0,268.0 L886.2,268.2 L886.5,268.4 L886.7,268.6 L887.0,268.8 L887.2,269.0 L887.5,269.2 L887.7,269.4 L888.0,269.6 L888.2,269.8 L888.5,270.0 L888.7,270.2 L889.0,270.4 L889.2,270.6 L889.5,270.8 L889.7,271.0 L890.0,271.2 L890.2,271.4 L890.5,271.6 L890.7,271.7 L891.0,271.9 L891.2,272.1 L891.5,272.3 L891.7,272.5 L892.0,272.7 L892.2,272.9 L892.5,273.1 L892.7,273.3 L893.0,273.5 L893.2,273.7 L893.5,273.9 L893.7,274.1 L894.0,274.3 L894.2,274.5 L894.5,274.7 L894.7,274.9 L895.0,275.1 L895.2,275.3 L895.5,275.4 L895.7,275.6 L896.0,275.8 L896.2,276.0 L896.5,276.2 L896.7,276.4 L897.0,276.6 L897.2,276.8 L897.5,277.0 L897.7,277.2 L898.0,277.4 L898.2,277.6 L898.5,277.8 L898.7,278.0 L899.0,278.2 L899.2,278.4 L899.5,278.6 L899.7,278.8 L900.0,279.0 L900.2,279.1 L900.5,279.3 L900.7,279.5 L901.0,279.7 L901.2,279.9 L901.5,280.1 L901.7,280.3 L902.0,280.5 L902.2,280.7 L902.5,280.9 L902.7,281.1 L903.0,281.3 L903.2,281.5 L903.5,281.7 L903.7,281.9 L904.0,282.1 L904.2,282.3 L904.5,282.5 L904.7,282.7 L905.0,282.8 L905.2,283.0 L905.5,283.2 L905.7,283.4 L906.0,283.6 L906.2,283.8 L906.5,284.0 L906.7,284.2 L907.0,284.4 L907.2,284.6 L907.5,284.8 L907.7,285.0 L908.0,285.2 L908.2,285.4 L908.5,285.6 L908.7,285.8 L909.0,286.0 L909.2,286.2 L909.5,286.4 L909.7,286.5 L910.0,286.7 L910.2,286.9 L910.5,287.1 L910.7,287.3 L911.0,287.5 L911.2,287.7 L911.5,287.9 L911.7,288.1 L912.0,288.3 L912.2,288.5 L912.5,288.7 L912.7,288.9 L913.0,289.1 L913.2,289.3 L913.5,289.5 L913.7,289.7 L914.0,289.9 L914.2,290.1 L914.5,290.2 L914.7,290.4 L915.0,290.6 L915.2,290.8 L915.5,291.0 L915.7,291.2 L916.0,291.4 L916.2,291.6 L916.5,291.8 L916.7,292.0 L917.0,292.2 L917.2,292.4 L917.5,292.6 L917.7,292.8 L918.0,293.0 L918.2,293.2 L918.5,293.4 L918.7,293.6 L919.0,293.8 L919.2,293.9 L919.5,294.1 L919.7,294.3 L920.0,294.5 L920.2,294.7 L920.5,294.9 L920.7,295.1 L921.0,295.3 L921.2,295.5 L921.5,295.7 L921.7,295.9 L922.0,296.1 L922.2,296.3 L922.5,296.5 L922.7,296.7 L923.0,296.9 L923.2,297.1 L923.5,297.3 L923.7,297.5 L924.0,297.7 L924.2,297.8 L924.5,298.0 L924.7,298.2 L925.0,298.4 L925.2,298.6 L925.5,298.8 L925.7,299.0 L926.0,299.2 L926.2,299.4 L926.5,299.6 L926.7,299.8 L927.0,300.0 L927.2,300.2 L927.5,300.4 L927.7,300.6 L928.0,300.8 L928.2,301.0 L928.5,301.2 L928.7,301.4 L929.0,301.6 L929.2,301.8 L929.5,302.0 L929.7,302.2 L930.0,302.4 L930.2,302.6 L930.5,302.8 L930.7,303.0 L931.0,303.1 L931.2,303.3 L931.5,303.5 L931.7,303.7 L932.0,303.9 L932.2,304.1 L932.5,304.3 L932.7,304.5 L933.0,304.7 L933.2,304.9 L933.5,305.1 L933.7,305.3 L934.0,305.5 L934.2,305.7 L934.5,305.9 L934.7,306.2 L935.0,306.4 L935.2,306.6 L935.5,306.8 L935.7,307.0 L936.0,307.2 L936.2,307.4 L936.5,307.6 L936.7,307.8 L937.0,308.0 L937.2,308.2 L937.5,308.4 L937.7,308.6 L938.0,308.9 L938.2,309.1 L938.5,309.3 L938.7,309.5 L939.0,309.7 L939.2,309.9 L939.5,310.2 L939.7,310.4 L940.0,310.6 L940.2,310.9 L940.5,311.1 L940.7,311.3 L941.0,311.6 L941.2,311.8 L941.5,312.0 L941.7,312.3 L942.0,312.5 L942.2,312.8 L942.5,313.0 L942.7,313.3 L943.0,313.6 L943.2,313.8 L943.5,314.1 L943.7,314.4 L944.0,314.7 L944.2,315.0 L944.5,315.3 L944.7,315.6 L945.0,315.9 L945.2,316.2 L945.5,316.6 L945.7,316.9 L946.0,317.3 L946.2,317.6 L946.5,318.0 L946.7,318.4 L947.0,318.8 L947.2,319.2 L947.5,319.6 L947.7,320.1 L948.0,320.5 L948.2,321.0 L948.5,321.5 L948.7,322.0 L949.0,322.6 L949.2,323.1 L949.5,323.7 L949.7,324.3 L950.0,325.0 L950.2,325.7 L950.5,326.4 L950.7,327.1 L951.0,327.9 L951.2,328.7 L951.5,329.6 L951.7,330.5 L952.0,331.4 L952.2,332.4 L952.5,333.5 L952.7,334.6 L953.0,335.8 L953.2,337.1 L953.5,338.4 L953.7,339.8 L954.0,341.3 L954.2,342.8 L954.5,344.5 L954.7,346.3 L955.0,348.1 L955.2,350.1 L955.5,352.2 L955.7,354.5 L956.0,356.8 L956.2,359.4 L956.5,362.0 L956.7,364.9 L957.0,367.9 L957.2,371.1 L957.5,374.5 L957.7,378.2 L958.0,382.1" stroke="#ff0000" stroke-width="1.70" stroke-dasharray="5.6 2.15"/>
<path d="M651.3,223.8 L651.5,222.5 L651.5,221.9 L651.5,221.3 L651.5,220.7 L651.5,220.0 L651.5,219.4 L651.5,218.8 L651.5,218.2 L651.5,217.6 L651.5,217.0 L651.5,216.4 L651.5,215.7 L651.5,215.1 L651.5,214.5 L651.5,213.9 L651.5,213.3 L651.5,212.7 L651.5,212.1 L651.5,211.4 L651.5,210.8 L651.5,210.2 L651.5,209.6 L651.5,209.0 L651.5,208.4 L651.5,207.8 L651.5,207.2 L651.6,206.6 L651.6,206.0 L651.6,205.4 L651.6,204.8 L651.7,204.2 L651.8,203.7 L651.9,203.2 L652.1,202.7 L652.3,202.3 L652.6,201.9 L653.0,201.6 L653.5,201.5 L654.2,201.4 L655.1,201.5 L656.9,202.0 L657.7,202.2 L658.4,202.5 L659.2,202.7 L660.0,203.0 L660.7,203.3 L661.5,203.6 L662.3,203.9 L663.0,204.2 L663.8,204.5 L664.6,204.8 L665.3,205.1 L666.1,205.4 L666.9,205.7 L667.6,206.0 L668.4,206.3 L669.2,206.6 L669.9,206.9 L670.7,207.2 L671.5,207.5 L672.2,207.9 L673.0,208.2 L673.8,208.5 L674.5,208.8 L675.3,209.1 L676.1,209.4 L676.8,209.7 L677.6,210.0 L678.4,210.3 L679.2,210.6 L679.9,210.9 L680.7,211.2 L681.5,211.5 L682.2,211.9 L683.0,212.2 L683.8,212.5 L684.5,212.8 L685.3,213.1 L686.1,213.4 L686.8,213.7 L687.6,214.0 L688.4,214.3 L689.1,214.6 L689.9,214.9 L690.7,215.2 L691.4,215.5 L692.2,215.9 L693.0,216.2 L693.7,216.5 L694.5,216.8 L695.3,217.1 L696.0,217.4 L696.8,217.7 L697.6,218.0 L698.3,218.3 L699.1,218.6 L699.9,218.9 L700.6,219.2 L701.4,219.5 L702.2,219.9 L703.0,220.2 L703.7,220.5 L704.5,220.8 L705.3,221.1 L706.0,221.4 L706.8,221.7 L707.6,222.0 L708.3,222.3 L709.1,222.6 L709.9,222.9 L710.6,223.2 L711.4,223.5 L712.2,223.9 L712.9,224.2 L713.7,224.5 L714.5,224.8 L715.2,225.1 L716.0,225.4 L716.8,225.7 L717.5,226.0 L718.3,226.3 L719.1,226.6 L719.8,226.9 L720.6,227.2 L721.4,227.5 L722.1,227.9 L722.9,228.2 L723.7,228.5 L724.4,228.8 L725.2,229.1 L726.0,229.4 L726.8,229.7 L727.5,230.0 L728.3,230.3 L729.1,230.6 L729.8,230.9 L730.6,231.2 L731.4,231.5 L732.1,231.9 L732.9,232.2 L733.7,232.5 L734.4,232.8 L735.2,233.1 L736.0,233.4 L736.7,233.7 L737.5,234.0 L738.3,234.3 L739.0,234.6 L739.8,234.9 L740.6,235.2 L741.3,235.5 L742.1,235.9 L742.9,236.2 L743.6,236.5 L744.4,236.8 L745.2,237.1 L745.9,237.4 L746.7,237.7 L747.5,238.0 L748.2,238.3 L749.0,238.6 L749.8,238.9 L750.6,239.2 L751.3,239.5 L752.1,239.9 L752.9,240.2 L753.6,240.5 L754.4,240.8 L755.2,241.1 L755.9,241.4 L756.7,241.7 L757.5,242.0 L758.2,242.3 L759.0,242.6 L759.8,242.9 L760.5,243.2 L761.3,243.5 L762.1,243.9 L762.8,244.2 L763.6,244.5 L764.4,244.8 L765.1,245.1 L765.9,245.4 L766.7,245.7 L767.4,246.0 L768.2,246.3 L769.0,246.6 L769.7,246.9 L770.5,247.2 L771.3,247.5 L772.0,247.9 L772.8,248.2 L773.6,248.5 L774.4,248.8 L775.1,249.1 L775.9,249.4 L776.7,249.7 L777.4,250.0 L778.2,250.3 L779.0,250.6 L779.7,250.9 L780.5,251.2 L781.3,251.5 L782.0,251.9 L782.8,252.2 L783.6,252.5 L784.3,252.8 L785.1,253.1 L785.9,253.4 L786.6,253.7 L787.4,254.0 L788.2,254.3 L788.9,254.6 L789.7,254.9 L790.5,255.2 L791.2,255.5 L792.0,255.9 L792.8,256.2 L793.5,256.5 L794.3,256.8 L795.1,257.1 L795.9,257.4 L796.6,257.7 L797.4,258.0 L798.2,258.3 L798.9,258.6 L799.7,258.9 L800.5,259.2 L801.2,259.5 L802.0,259.9 L802.8,260.2 L803.5,260.5 L804.3,260.8 L805.1,261.1 L805.8,261.4 L806.6,261.7 L807.4,262.0 L808.1,262.3 L808.9,262.6 L809.7,262.9 L810.4,263.2 L811.2,263.5 L812.0,263.9 L812.7,264.2 L813.5,264.5 L814.3,264.8 L815.0,265.1 L815.8,265.4 L816.6,265.7 L817.3,266.0 L818.1,266.3 L818.9,266.6 L819.7,266.9 L820.4,267.2 L821.2,267.5 L822.0,267.9 L822.7,268.2 L823.5,268.5 L824.3,268.8 L825.0,269.1 L825.8,269.4 L826.6,269.7 L827.3,270.0 L828.1,270.3 L828.9,270.6 L829.6,270.9 L830.4,271.2 L831.2,271.5 L831.9,271.9 L832.7,272.2 L833.5,272.5 L834.2,272.8 L835.0,273.1 L835.8,273.4 L836.5,273.7 L837.3,274.0 L838.1,274.3 L838.8,274.6 L839.6,274.9 L840.4,275.2 L841.1,275.5 L841.9,275.9 L842.7,276.2 L843.5,276.5 L844.2,276.8 L845.0,277.1 L845.8,277.4 L846.5,277.7 L847.3,278.0 L848.1,278.3 L848.8,278.6 L849.6,278.9 L850.4,279.2 L851.1,279.5 L851.9,279.9 L852.7,280.2 L853.4,280.5 L854.2,280.8 L855.0,281.1 L855.7,281.4 L856.5,281.7 L857.3,282.0 L858.0,282.3 L858.8,282.6 L859.6,282.9 L860.3,283.2 L861.1,283.5 L861.9,283.9 L862.6,284.2 L863.4,284.5 L864.2,284.8 L864.9,285.1 L865.7,285.4 L866.5,285.7 L867.3,286.0 L868.0,286.3 L868.8,286.6 L869.6,286.9 L870.3,287.2 L871.1,287.6 L871.9,287.9 L872.6,288.2 L873.4,288.5 L874.2,288.8 L874.9,289.1 L875.7,289.4 L876.5,289.7 L877.2,290.0 L878.0,290.3 L878.8,290.6 L879.5,290.9 L880.3,291.2 L881.1,291.6 L881.8,291.9 L882.6,292.2 L883.4,292.5 L884.1,292.8 L884.9,293.1 L885.7,293.4 L886.4,293.7 L887.2,294.0 L888.0,294.3 L888.8,294.6 L889.5,294.9 L890.3,295.2 L891.1,295.6 L891.8,295.9 L892.6,296.2 L893.4,296.5 L894.1,296.8 L894.9,297.1 L895.7,297.4 L896.4,297.7 L897.2,298.0 L898.0,298.3 L898.7,298.6 L899.5,298.9 L900.3,299.2 L901.0,299.6 L901.8,299.9 L902.6,300.2 L903.3,300.5 L904.1,300.8 L904.9,301.1 L905.6,301.4 L906.4,301.7 L907.2,302.0 L907.9,302.3 L908.7,302.6 L909.5,302.9 L910.2,303.2 L911.0,303.6 L911.8,303.9 L912.6,304.2 L913.3,304.5 L914.1,304.8 L914.9,305.1 L915.6,305.4 L916.4,305.7 L917.2,306.0 L917.9,306.3 L918.7,306.6 L919.5,306.9 L920.2,307.2 L921.0,307.6 L921.8,307.9 L922.5,308.2 L923.3,308.5 L924.1,308.8 L924.8,309.1 L925.6,309.4 L926.4,309.7 L927.1,310.0 L927.9,310.3 L928.7,310.6 L929.4,310.9 L930.2,311.2 L931.0,311.6 L931.7,311.9 L932.5,312.2 L933.3,312.5 L934.0,312.8 L934.8,313.1 L935.6,313.4 L936.4,313.7 L937.1,314.0 L937.9,314.3 L938.7,314.6 L939.4,314.9 L940.2,315.2 L941.0,315.6 L941.7,315.9 L942.5,316.2 L943.3,316.5 L944.0,316.8 L944.8,317.1 L945.6,317.5 L946.3,317.8 L947.1,318.2 L947.9,318.7 L948.6,319.2 L949.4,319.7 L950.2,320.4 L950.9,321.1 L951.7,321.8 L952.5,322.6 L953.2,323.4 L954.0,324.1 L954.8,324.9 L955.5,325.7 L956.3,326.5 L957.1,327.3 L957.8,328.1 L958.6,328.9 L959.4,329.7 L960.2,330.5 L960.9,331.3 L961.7,332.1 L962.5,332.9 L963.2,333.7 L964.0,334.5 L964.8,335.3 L965.5,336.1 L966.3,336.9 L967.1,337.7 L967.8,338.5 L968.6,339.3 L969.4,340.1 L970.1,340.9 L970.9,341.7 L971.7,342.5 L972.4,343.3 L973.2,344.1 L974.0,344.9 L974.7,345.7 L975.5,346.5 L976.3,347.4 L977.0,348.2 L977.8,349.0 L978.6,349.8 L979.3,350.6 L980.1,351.4 L980.9,352.2 L981.6,353.0 L982.4,353.8 L983.2,354.6 L984.0,355.4 L984.7,356.2 L985.5,357.0 L986.3,357.8 L987.0,358.6 L987.8,359.4 L988.6,360.2 L989.3,361.0 L990.1,361.8 L990.9,362.6 L991.6,363.4 L992.4,364.2 L993.2,365.0 L993.9,365.8 L994.7,366.6 L995.5,367.4 L996.2,368.2 L997.0,369.0 L997.8,369.8 L998.5,370.6 L999.3,371.4 L1000.1,372.2 L1000.8,373.0 L1001.6,373.8 L1002.4,374.6 L1003.1,375.4 L1003.9,376.2 L1004.7,377.0 L1005.5,377.8 L1006.2,378.6 L1007.0,379.4 L1007.8,380.2 L1008.5,381.0 L1009.3,381.8 L1010.1,382.6 L1010.8,383.4 L1011.6,384.2 L1012.4,385.0 L1013.1,385.8 L1013.9,386.6 L1014.7,387.4 L1015.4,388.2 L1016.2,389.0 L1017.0,389.8 L1017.7,390.6 L1018.5,391.4 L1019.3,392.2 L1020.0,393.0 L1020.8,393.8 L1021.6,394.6 L1022.3,395.4 L1023.1,396.2 L1023.9,397.0 L1024.6,397.8 L1025.4,398.6 L1026.2,399.4 L1026.9,400.2 L1027.7,401.0 L1028.5,401.8 L1029.3,402.6 L1030.0,403.4 L1030.8,404.2 L1031.6,405.0 L1032.3,405.8 L1033.1,406.6 L1033.9,407.4 L1034.6,408.2 L1035.4,409.0 L1036.2,409.8 L1036.9,410.6 L1037.7,411.4 L1038.5,412.2 L1039.2,413.0 L1040.0,413.8" stroke="#ff0000" stroke-width="1.70"/>
<path d="M651.2,150.5 L651.5,149.8 L651.5,148.9 L651.5,148.0 L651.5,147.2 L651.5,146.3 L651.5,145.4 L651.5,144.6 L651.5,143.7 L651.5,142.8 L651.5,142.0 L651.5,141.1 L651.5,140.2 L651.5,139.4 L651.5,138.5 L651.5,137.6 L651.5,136.8 L651.5,135.9 L651.5,135.0 L651.5,134.2 L651.5,133.3 L651.5,132.4 L651.5,131.6 L651.5,130.7 L651.5,129.9 L651.6,129.0 L651.6,128.2 L651.6,127.3 L651.6,126.5 L651.7,125.7 L651.8,125.0 L651.9,124.2 L652.1,123.6 L652.3,123.0 L652.6,122.4 L653.0,122.1 L653.5,121.8 L654.2,121.7 L655.1,121.9 L656.9,122.5 L657.7,122.8 L658.4,123.2 L659.2,123.6 L660.0,124.0 L660.7,124.4 L661.5,124.8 L662.3,125.2 L663.0,125.6 L663.8,126.1 L664.6,126.5 L665.3,126.9 L666.1,127.4 L666.9,127.8 L667.6,128.2 L668.4,128.7 L669.2,129.1 L669.9,129.5 L670.7,130.0 L671.5,130.4 L672.2,130.8 L673.0,131.3 L673.8,131.7 L674.5,132.1 L675.3,132.6 L676.1,133.0 L676.8,133.4 L677.6,133.9 L678.4,134.3 L679.2,134.7 L679.9,135.2 L680.7,135.6 L681.5,136.0 L682.2,136.5 L683.0,136.9 L683.8,137.4 L684.5,137.8 L685.3,138.2 L686.1,138.7 L686.8,139.1 L687.6,139.5 L688.4,140.0 L689.1,140.4 L689.9,140.8 L690.7,141.3 L691.4,141.7 L692.2,142.1 L693.0,142.6 L693.7,143.0 L694.5,143.4 L695.3,143.9 L696.0,144.3 L696.8,144.7 L697.6,145.2 L698.3,145.6 L699.1,146.0 L699.9,146.5 L700.6,146.9 L701.4,147.4 L702.2,147.8 L703.0,148.2 L703.7,148.7 L704.5,149.1 L705.3,149.5 L706.0,150.0 L706.8,150.4 L707.6,150.8 L708.3,151.3 L709.1,151.7 L709.9,152.1 L710.6,152.6 L711.4,153.0 L712.2,153.4 L712.9,153.9 L713.7,154.3 L714.5,154.7 L715.2,155.2 L716.0,155.6 L716.8,156.0 L717.5,156.5 L718.3,156.9 L719.1,157.4 L719.8,157.8 L720.6,158.2 L721.4,158.7 L722.1,159.1 L722.9,159.5 L723.7,160.0 L724.4,160.4 L725.2,160.8 L726.0,161.3 L726.8,161.7 L727.5,162.1 L728.3,162.6 L729.1,163.0 L729.8,163.4 L730.6,163.9 L731.4,164.3 L732.1,164.7 L732.9,165.2 L733.7,165.6 L734.4,166.0 L735.2,166.5 L736.0,166.9 L736.7,167.3 L737.5,167.8 L738.3,168.2 L739.0,168.7 L739.8,169.1 L740.6,169.5 L741.3,170.0 L742.1,170.4 L742.9,170.8 L743.6,171.3 L744.4,171.7 L745.2,172.1 L745.9,172.6 L746.7,173.0 L747.5,173.4 L748.2,173.9 L749.0,174.3 L749.8,174.7 L750.6,175.2 L751.3,175.6 L752.1,176.0 L752.9,176.5 L753.6,176.9 L754.4,177.3 L755.2,177.8 L755.9,178.2 L756.7,178.7 L757.5,179.1 L758.2,179.5 L759.0,180.0 L759.8,180.4 L760.5,180.8 L761.3,181.3 L762.1,181.7 L762.8,182.1 L763.6,182.6 L764.4,183.0 L765.1,183.4 L765.9,183.9 L766.7,184.3 L767.4,184.7 L768.2,185.2 L769.0,185.6 L769.7,186.0 L770.5,186.5 L771.3,186.9 L772.0,187.3 L772.8,187.8 L773.6,188.2 L774.4,188.7 L775.1,189.1 L775.9,189.5 L776.7,190.0 L777.4,190.4 L778.2,190.8 L779.0,191.3 L779.7,191.7 L780.5,192.1 L781.3,192.6 L782.0,193.0 L782.8,193.4 L783.6,193.9 L784.3,194.3 L785.1,194.7 L785.9,195.2 L786.6,195.6 L787.4,196.0 L788.2,196.5 L788.9,196.9 L789.7,197.3 L790.5,197.8 L791.2,198.2 L792.0,198.7 L792.8,199.1 L793.5,199.5 L794.3,200.0 L795.1,200.4 L795.9,200.8 L796.6,201.3 L797.4,201.7 L798.2,202.1 L798.9,202.6 L799.7,203.0 L800.5,203.4 L801.2,203.9 L802.0,204.3 L802.8,204.7 L803.5,205.2 L804.3,205.6 L805.1,206.0 L805.8,206.5 L806.6,206.9 L807.4,207.3 L808.1,207.8 L808.9,208.2 L809.7,208.7 L810.4,209.1 L811.2,209.5 L812.0,210.0 L812.7,210.4 L813.5,210.8 L814.3,211.3 L815.0,211.7 L815.8,212.1 L816.6,212.6 L817.3,213.0 L818.1,213.4 L818.9,213.9 L819.7,214.3 L820.4,214.7 L821.2,215.2 L822.0,215.6 L822.7,216.0 L823.5,216.5 L824.3,216.9 L825.0,217.3 L825.8,217.8 L826.6,218.2 L827.3,218.7 L828.1,219.1 L828.9,219.5 L829.6,220.0 L830.4,220.4 L831.2,220.8 L831.9,221.3 L832.7,221.7 L833.5,222.1 L834.2,222.6 L835.0,223.0 L835.8,223.4 L836.5,223.9 L837.3,224.3 L838.1,224.7 L838.8,225.2 L839.6,225.6 L840.4,226.0 L841.1,226.5 L841.9,226.9 L842.7,227.3 L843.5,227.8 L844.2,228.2 L845.0,228.7 L845.8,229.1 L846.5,229.5 L847.3,230.0 L848.1,230.4 L848.8,230.8 L849.6,231.3 L850.4,231.7 L851.1,232.1 L851.9,232.6 L852.7,233.0 L853.4,233.4 L854.2,233.9 L855.0,234.3 L855.7,234.7 L856.5,235.2 L857.3,235.6 L858.0,236.0 L858.8,236.5 L859.6,236.9 L860.3,237.3 L861.1,237.8 L861.9,238.2 L862.6,238.6 L863.4,239.1 L864.2,239.5 L864.9,240.0 L865.7,240.4 L866.5,240.8 L867.3,241.3 L868.0,241.7 L868.8,242.1 L869.6,242.6 L870.3,243.0 L871.1,243.4 L871.9,243.9 L872.6,244.3 L873.4,244.7 L874.2,245.2 L874.9,245.6 L875.7,246.0 L876.5,246.5 L877.2,246.9 L878.0,247.3 L878.8,247.8 L879.5,248.2 L880.3,248.6 L881.1,249.1 L881.8,249.5 L882.6,250.0 L883.4,250.4 L884.1,250.8 L884.9,251.3 L885.7,251.7 L886.4,252.1 L887.2,252.6 L888.0,253.0 L888.8,253.4 L889.5,253.9 L890.3,254.3 L891.1,254.7 L891.8,255.2 L892.6,255.6 L893.4,256.0 L894.1,256.5 L894.9,256.9 L895.7,257.3 L896.4,257.8 L897.2,258.2 L898.0,258.6 L898.7,259.1 L899.5,259.5 L900.3,260.0 L901.0,260.4 L901.8,260.8 L902.6,261.3 L903.3,261.7 L904.1,262.1 L904.9,262.6 L905.6,263.0 L906.4,263.4 L907.2,263.9 L907.9,264.3 L908.7,264.7 L909.5,265.2 L910.2,265.6 L911.0,266.0 L911.8,266.5 L912.6,266.9 L913.3,267.3 L914.1,267.8 L914.9,268.2 L915.6,268.6 L916.4,269.1 L917.2,269.5 L917.9,270.0 L918.7,270.4 L919.5,270.8 L920.2,271.3 L921.0,271.7 L921.8,272.1 L922.5,272.6 L923.3,273.0 L924.1,273.4 L924.8,273.9 L925.6,274.3 L926.4,274.7 L927.1,275.2 L927.9,275.6 L928.7,276.0 L929.4,276.5 L930.2,276.9 L931.0,277.3 L931.7,277.8 L932.5,278.2 L933.3,278.6 L934.0,279.1 L934.8,279.5 L935.6,280.0 L936.4,280.4 L937.1,280.8 L937.9,281.3 L938.7,281.7 L939.4,282.1 L940.2,282.6 L941.0,283.0 L941.7,283.5 L942.5,283.9 L943.3,284.4 L944.0,284.9 L944.8,285.5 L945.6,286.1 L946.3,286.8 L947.1,287.5 L947.9,288.4 L948.6,289.3 L949.4,290.3 L950.2,291.3 L950.9,292.4 L951.7,293.4 L952.5,294.5 L953.2,295.7 L954.0,296.8 L954.8,297.9 L955.5,299.0 L956.3,300.2 L957.1,301.3 L957.8,302.4 L958.6,303.6 L959.4,304.7 L960.2,305.8 L960.9,307.0 L961.7,308.1 L962.5,309.2 L963.2,310.4 L964.0,311.5 L964.8,312.6 L965.5,313.8 L966.3,314.9 L967.1,316.0 L967.8,317.1 L968.6,318.3 L969.4,319.4 L970.1,320.4 L970.9,321.5 L971.7,322.5 L972.4,323.4 L973.2,324.3 L974.0,325.1 L974.7,325.8 L975.5,326.4 L976.3,327.1 L977.0,327.9 L977.8,328.7 L978.6,329.6 L979.3,330.6 L980.1,331.6 L980.9,332.7 L981.6,333.8 L982.4,334.9 L983.2,336.0 L984.0,337.2 L984.7,338.3 L985.5,339.5 L986.3,340.6 L987.0,341.8 L987.8,342.9 L988.6,344.1 L989.3,345.2 L990.1,346.4 L990.9,347.5 L991.6,348.7 L992.4,349.8 L993.2,351.0 L993.9,352.1 L994.7,353.3 L995.5,354.4 L996.2,355.6 L997.0,356.7 L997.8,357.9 L998.5,359.0 L999.3,360.2 L1000.1,361.3 L1000.8,362.5 L1001.6,363.6 L1002.4,364.8 L1003.1,365.9 L1003.9,367.0 L1004.7,368.2 L1005.5,369.3 L1006.2,370.5 L1007.0,371.6 L1007.8,372.8 L1008.5,373.9 L1009.3,375.1 L1010.1,376.2 L1010.8,377.4 L1011.6,378.5 L1012.4,379.7 L1013.1,380.8 L1013.9,382.0 L1014.7,383.1 L1015.4,384.3 L1016.2,385.4 L1017.0,386.6 L1017.7,387.7 L1018.5,388.9 L1019.3,390.0 L1020.0,391.2 L1020.8,392.3 L1021.6,393.5 L1022.3,394.6 L1023.1,395.8 L1023.9,396.9 L1024.6,398.1 L1025.4,399.2 L1026.2,400.4 L1026.9,401.5 L1027.7,402.7 L1028.5,403.8 L1029.3,405.0 L1030.0,406.1 L1030.8,407.3 L1031.6,408.4 L1032.3,409.6 L1033.1,410.7 L1033.9,411.9 L1034.6,413.0 L1035.4,414.2 L1036.2,415.3 L1036.9,416.5 L1037.7,417.6 L1038.5,418.8 L1039.2,419.9 L1040.0,421.1" stroke="#0000ff" stroke-width="1.70"/>
</g>
<line x1="945.5" y1="78.2" x2="945.5" y2="379.3" stroke="#000" stroke-width="2.1"/>
<line x1="651.50" y1="78.20" x2="651.50" y2="82.40" stroke="#888" stroke-width="0.6"/>
<line x1="651.50" y1="379.30" x2="651.50" y2="375.10" stroke="#888" stroke-width="0.6"/>
<line x1="712.85" y1="78.20" x2="712.85" y2="82.40" stroke="#888" stroke-width="0.6"/>
<line x1="712.85" y1="379.30" x2="712.85" y2="375.10" stroke="#888" stroke-width="0.6"/>
<line x1="774.20" y1="78.20" x2="774.20" y2="82.40" stroke="#888" stroke-width="0.6"/>
<line x1="774.20" y1="379.30" x2="774.20" y2="375.10" stroke="#888" stroke-width="0.6"/>
<line x1="835.55" y1="78.20" x2="835.55" y2="82.40" stroke="#888" stroke-width="0.6"/>
<line x1="835.55" y1="379.30" x2="835.55" y2="375.10" stroke="#888" stroke-width="0.6"/>
<line x1="896.90" y1="78.20" x2="896.90" y2="82.40" stroke="#888" stroke-width="0.6"/>
<line x1="896.90" y1="379.30" x2="896.90" y2="375.10" stroke="#888" stroke-width="0.6"/>
<line x1="958.25" y1="78.20" x2="958.25" y2="82.40" stroke="#888" stroke-width="0.6"/>
<line x1="958.25" y1="379.30" x2="958.25" y2="375.10" stroke="#888" stroke-width="0.6"/>
<line x1="1019.60" y1="78.20" x2="1019.60" y2="82.40" stroke="#888" stroke-width="0.6"/>
<line x1="1019.60" y1="379.30" x2="1019.60" y2="375.10" stroke="#888" stroke-width="0.6"/>
<line x1="682.17" y1="78.20" x2="682.17" y2="80.80" stroke="#999" stroke-width="0.6"/>
<line x1="682.17" y1="379.30" x2="682.17" y2="376.70" stroke="#999" stroke-width="0.6"/>
<line x1="743.52" y1="78.20" x2="743.52" y2="80.80" stroke="#999" stroke-width="0.6"/>
<line x1="743.52" y1="379.30" x2="743.52" y2="376.70" stroke="#999" stroke-width="0.6"/>
<line x1="804.88" y1="78.20" x2="804.88" y2="80.80" stroke="#999" stroke-width="0.6"/>
<line x1="804.88" y1="379.30" x2="804.88" y2="376.70" stroke="#999" stroke-width="0.6"/>
<line x1="866.23" y1="78.20" x2="866.23" y2="80.80" stroke="#999" stroke-width="0.6"/>
<line x1="866.23" y1="379.30" x2="866.23" y2="376.70" stroke="#999" stroke-width="0.6"/>
<line x1="927.58" y1="78.20" x2="927.58" y2="80.80" stroke="#999" stroke-width="0.6"/>
<line x1="927.58" y1="379.30" x2="927.58" y2="376.70" stroke="#999" stroke-width="0.6"/>
<line x1="988.92" y1="78.20" x2="988.92" y2="80.80" stroke="#999" stroke-width="0.6"/>
<line x1="988.92" y1="379.30" x2="988.92" y2="376.70" stroke="#999" stroke-width="0.6"/>
<line x1="636.20" y1="94.50" x2="640.40" y2="94.50" stroke="#ff8080" stroke-width="0.5"/>
<line x1="636.20" y1="134.64" x2="640.40" y2="134.64" stroke="#ff8080" stroke-width="0.5"/>
<line x1="636.20" y1="174.78" x2="640.40" y2="174.78" stroke="#ff8080" stroke-width="0.5"/>
<line x1="636.20" y1="214.92" x2="640.40" y2="214.92" stroke="#ff8080" stroke-width="0.5"/>
<line x1="636.20" y1="255.06" x2="640.40" y2="255.06" stroke="#ff8080" stroke-width="0.5"/>
<line x1="636.20" y1="295.20" x2="640.40" y2="295.20" stroke="#ff8080" stroke-width="0.5"/>
<line x1="636.20" y1="335.34" x2="640.40" y2="335.34" stroke="#ff8080" stroke-width="0.5"/>
<line x1="636.20" y1="375.48" x2="640.40" y2="375.48" stroke="#ff8080" stroke-width="0.5"/>
<line x1="636.20" y1="114.57" x2="638.70" y2="114.57" stroke="#ffb4b4" stroke-width="0.4"/>
<line x1="636.20" y1="154.71" x2="638.70" y2="154.71" stroke="#ffb4b4" stroke-width="0.4"/>
<line x1="636.20" y1="194.85" x2="638.70" y2="194.85" stroke="#ffb4b4" stroke-width="0.4"/>
<line x1="636.20" y1="234.99" x2="638.70" y2="234.99" stroke="#ffb4b4" stroke-width="0.4"/>
<line x1="636.20" y1="275.13" x2="638.70" y2="275.13" stroke="#ffb4b4" stroke-width="0.4"/>
<line x1="636.20" y1="315.27" x2="638.70" y2="315.27" stroke="#ffb4b4" stroke-width="0.4"/>
<line x1="636.20" y1="355.41" x2="638.70" y2="355.41" stroke="#ffb4b4" stroke-width="0.4"/>
<line x1="1035.05" y1="379.30" x2="1030.85" y2="379.30" stroke="#8080ff" stroke-width="0.5"/>
<line x1="1035.05" y1="332.98" x2="1030.85" y2="332.98" stroke="#8080ff" stroke-width="0.5"/>
<line x1="1035.05" y1="286.66" x2="1030.85" y2="286.66" stroke="#8080ff" stroke-width="0.5"/>
<line x1="1035.05" y1="240.34" x2="1030.85" y2="240.34" stroke="#8080ff" stroke-width="0.5"/>
<line x1="1035.05" y1="194.02" x2="1030.85" y2="194.02" stroke="#8080ff" stroke-width="0.5"/>
<line x1="1035.05" y1="147.70" x2="1030.85" y2="147.70" stroke="#8080ff" stroke-width="0.5"/>
<line x1="1035.05" y1="101.38" x2="1030.85" y2="101.38" stroke="#8080ff" stroke-width="0.5"/>
<line x1="1035.05" y1="356.14" x2="1032.55" y2="356.14" stroke="#b4b4ff" stroke-width="0.4"/>
<line x1="1035.05" y1="309.82" x2="1032.55" y2="309.82" stroke="#b4b4ff" stroke-width="0.4"/>
<line x1="1035.05" y1="263.50" x2="1032.55" y2="263.50" stroke="#b4b4ff" stroke-width="0.4"/>
<line x1="1035.05" y1="217.18" x2="1032.55" y2="217.18" stroke="#b4b4ff" stroke-width="0.4"/>
<line x1="1035.05" y1="170.86" x2="1032.55" y2="170.86" stroke="#b4b4ff" stroke-width="0.4"/>
<line x1="1035.05" y1="124.54" x2="1032.55" y2="124.54" stroke="#b4b4ff" stroke-width="0.4"/>
<line x1="1035.05" y1="78.22" x2="1032.55" y2="78.22" stroke="#b4b4ff" stroke-width="0.4"/>
<path transform="translate(599.74,100.70) scale(0.00859,-0.00859)" d="M763 0H583V1147Q518 1085 412.5 1023T223 930V1104Q374 1175 487 1276T647 1472H763V0Z" fill="#ff0000"/>
<text x="609.53" y="100.70" fill="#ff0000" font-size="17.60" font-family="Liberation Sans, sans-serif">0</text>
<text x="619.31" y="93.80" fill="#ff0000" font-size="12.40" font-family="Liberation Sans, sans-serif">6</text>
<path transform="translate(626.21,93.80) scale(0.00605,-0.00605)" d="M763 0H583V1147Q518 1085 412.5 1023T223 930V1104Q374 1175 487 1276T647 1472H763V0Z" fill="#ff0000"/>
<path transform="translate(599.74,140.84) scale(0.00859,-0.00859)" d="M763 0H583V1147Q518 1085 412.5 1023T223 930V1104Q374 1175 487 1276T647 1472H763V0Z" fill="#ff0000"/>
<text x="609.53" y="140.84" fill="#ff0000" font-size="17.60" font-family="Liberation Sans, sans-serif">0</text>
<text x="619.31" y="133.94" fill="#ff0000" font-size="12.40" font-family="Liberation Sans, sans-serif">5</text>
<path transform="translate(626.21,133.94) scale(0.00605,-0.00605)" d="M763 0H583V1147Q518 1085 412.5 1023T223 930V1104Q374 1175 487 1276T647 1472H763V0Z" fill="#ff0000"/>
<path transform="translate(599.74,180.98) scale(0.00859,-0.00859)" d="M763 0H583V1147Q518 1085 412.5 1023T223 930V1104Q374 1175 487 1276T647 1472H763V0Z" fill="#ff0000"/>
<text x="609.53" y="180.98" fill="#ff0000" font-size="17.60" font-family="Liberation Sans, sans-serif">0</text>
<text x="619.31" y="174.08" fill="#ff0000" font-size="12.40" font-family="Liberation Sans, sans-serif">4</text>
<path transform="translate(626.21,174.08) scale(0.00605,-0.00605)" d="M763 0H583V1147Q518 1085 412.5 1023T223 930V1104Q374 1175 487 1276T647 1472H763V0Z" fill="#ff0000"/>
<path transform="translate(599.74,221.12) scale(0.00859,-0.00859)" d="M763 0H583V1147Q518 1085 412.5 1023T223 930V1104Q374 1175 487 1276T647 1472H763V0Z" fill="#ff0000"/>
<text x="609.53" y="221.12" fill="#ff0000" font-size="17.60" font-family="Liberation Sans, sans-serif">0</text>
<text x="619.31" y="214.22" fill="#ff0000" font-size="12.40" font-family="Liberation Sans, sans-serif">3</text>
<path transform="translate(626.21,214.22) scale(0.00605,-0.00605)" d="M763 0H583V1147Q518 1085 412.5 1023T223 930V1104Q374 1175 487 1276T647 1472H763V0Z" fill="#ff0000"/>
<path transform="translate(599.74,261.26) scale(0.00859,-0.00859)" d="M763 0H583V1147Q518 1085 412.5 1023T223 930V1104Q374 1175 487 1276T647 1472H763V0Z" fill="#ff0000"/>
<text x="609.53" y="261.26" fill="#ff0000" font-size="17.60" font-family="Liberation Sans, sans-serif">0</text>
<text x="619.31" y="254.36" fill="#ff0000" font-size="12.40" font-family="Liberation Sans, sans-serif">2</text>
<path transform="translate(626.21,254.36) scale(0.00605,-0.00605)" d="M763 0H583V1147Q518 1085 412.5 1023T223 930V1104Q374 1175 487 1276T647 1472H763V0Z" fill="#ff0000"/>
<path transform="translate(599.74,301.40) scale(0.00859,-0.00859)" d="M763 0H583V1147Q518 1085 412.5 1023T223 930V1104Q374 1175 487 1276T647 1472H763V0Z" fill="#ff0000"/>
<text x="609.53" y="301.40" fill="#ff0000" font-size="17.60" font-family="Liberation Sans, sans-serif">0</text>
<path transform="translate(619.31,294.50) scale(0.00605,-0.00605)" d="M763 0H583V1147Q518 1085 412.5 1023T223 930V1104Q374 1175 487 1276T647 1472H763V0Z" fill="#ff0000"/>
<path transform="translate(626.21,294.50) scale(0.00605,-0.00605)" d="M763 0H583V1147Q518 1085 412.5 1023T223 930V1104Q374 1175 487 1276T647 1472H763V0Z" fill="#ff0000"/>
<path transform="translate(614.13,341.54) scale(0.00859,-0.00859)" d="M763 0H583V1147Q518 1085 412.5 1023T223 930V1104Q374 1175 487 1276T647 1472H763V0Z" fill="#ff0000"/>
<text x="623.91" y="341.54" fill="#ff0000" font-size="17.60" font-family="Liberation Sans, sans-serif">0</text>
<path transform="translate(599.39,381.68) scale(0.00859,-0.00859)" d="M763 0H583V1147Q518 1085 412.5 1023T223 930V1104Q374 1175 487 1276T647 1472H763V0Z" fill="#ff0000"/>
<text x="609.18" y="381.68" fill="#ff0000" font-size="17.60" font-family="Liberation Sans, sans-serif">0</text>
<text x="618.96" y="374.78" fill="#ff0000" font-size="12.40" font-family="Liberation Sans, sans-serif">−9</text>
<text x="1037.60" y="385.10" fill="#0000ff" font-size="16.45" font-family="Liberation Sans, sans-serif">0.00</text>
<path transform="translate(1069.61,385.10) scale(0.00803,-0.00803)" d="M763 0H583V1147Q518 1085 412.5 1023T223 930V1104Q374 1175 487 1276T647 1472H763V0Z" fill="#0000ff"/>
<text x="1037.60" y="338.78" fill="#0000ff" font-size="16.45" font-family="Liberation Sans, sans-serif">0.</text>
<path transform="translate(1051.32,338.78) scale(0.00803,-0.00803)" d="M763 0H583V1147Q518 1085 412.5 1023T223 930V1104Q374 1175 487 1276T647 1472H763V0Z" fill="#0000ff"/>
<text x="1060.47" y="338.78" fill="#0000ff" font-size="16.45" font-family="Liberation Sans, sans-serif">00</text>
<path transform="translate(1037.60,292.46) scale(0.00803,-0.00803)" d="M763 0H583V1147Q518 1085 412.5 1023T223 930V1104Q374 1175 487 1276T647 1472H763V0Z" fill="#0000ff"/>
<text x="1046.75" y="292.46" fill="#0000ff" font-size="16.45" font-family="Liberation Sans, sans-serif">0</text>
<path transform="translate(1037.60,246.14) scale(0.00803,-0.00803)" d="M763 0H583V1147Q518 1085 412.5 1023T223 930V1104Q374 1175 487 1276T647 1472H763V0Z" fill="#0000ff"/>
<text x="1046.75" y="246.14" fill="#0000ff" font-size="16.45" font-family="Liberation Sans, sans-serif">000</text>
<path transform="translate(1037.60,199.82) scale(0.00803,-0.00803)" d="M763 0H583V1147Q518 1085 412.5 1023T223 930V1104Q374 1175 487 1276T647 1472H763V0Z" fill="#0000ff"/>
<text x="1046.75" y="199.82" fill="#0000ff" font-size="16.45" font-family="Liberation Sans, sans-serif">0</text>
<text x="1056.79" y="193.37" fill="#0000ff" font-size="11.60" font-family="Liberation Sans, sans-serif">5</text>
<path transform="translate(1037.60,153.50) scale(0.00803,-0.00803)" d="M763 0H583V1147Q518 1085 412.5 1023T223 930V1104Q374 1175 487 1276T647 1472H763V0Z" fill="#0000ff"/>
<text x="1046.75" y="153.50" fill="#0000ff" font-size="16.45" font-family="Liberation Sans, sans-serif">0</text>
<text x="1056.79" y="147.05" fill="#0000ff" font-size="11.60" font-family="Liberation Sans, sans-serif">7</text>
<path transform="translate(1037.60,107.18) scale(0.00803,-0.00803)" d="M763 0H583V1147Q518 1085 412.5 1023T223 930V1104Q374 1175 487 1276T647 1472H763V0Z" fill="#0000ff"/>
<text x="1046.75" y="107.18" fill="#0000ff" font-size="16.45" font-family="Liberation Sans, sans-serif">0</text>
<text x="1056.79" y="100.73" fill="#0000ff" font-size="11.60" font-family="Liberation Sans, sans-serif">9</text>
<path transform="translate(646.11,398.40) scale(0.00859,-0.00859)" d="M763 0H583V1147Q518 1085 412.5 1023T223 930V1104Q374 1175 487 1276T647 1472H763V0Z" fill="#000"/>
<path transform="translate(699.12,398.40) scale(0.00859,-0.00859)" d="M763 0H583V1147Q518 1085 412.5 1023T223 930V1104Q374 1175 487 1276T647 1472H763V0Z" fill="#000"/>
<text x="708.90" y="398.40" fill="#000" font-size="17.60" font-family="Liberation Sans, sans-serif">0</text>
<text x="718.69" y="391.50" fill="#000" font-size="12.40" font-family="Liberation Sans, sans-serif">4</text>
<path transform="translate(760.47,398.40) scale(0.00859,-0.00859)" d="M763 0H583V1147Q518 1085 412.5 1023T223 930V1104Q374 1175 487 1276T647 1472H763V0Z" fill="#000"/>
<text x="770.25" y="398.40" fill="#000" font-size="17.60" font-family="Liberation Sans, sans-serif">0</text>
<text x="780.04" y="391.50" fill="#000" font-size="12.40" font-family="Liberation Sans, sans-serif">8</text>
<path transform="translate(818.37,398.40) scale(0.00859,-0.00859)" d="M763 0H583V1147Q518 1085 412.5 1023T223 930V1104Q374 1175 487 1276T647 1472H763V0Z" fill="#000"/>
<text x="828.16" y="398.40" fill="#000" font-size="17.60" font-family="Liberation Sans, sans-serif">0</text>
<path transform="translate(837.94,391.50) scale(0.00605,-0.00605)" d="M763 0H583V1147Q518 1085 412.5 1023T223 930V1104Q374 1175 487 1276T647 1472H763V0Z" fill="#000"/>
<text x="844.84" y="391.50" fill="#000" font-size="12.40" font-family="Liberation Sans, sans-serif">2</text>
<path transform="translate(879.72,398.40) scale(0.00859,-0.00859)" d="M763 0H583V1147Q518 1085 412.5 1023T223 930V1104Q374 1175 487 1276T647 1472H763V0Z" fill="#000"/>
<text x="889.51" y="398.40" fill="#000" font-size="17.60" font-family="Liberation Sans, sans-serif">0</text>
<path transform="translate(899.29,391.50) scale(0.00605,-0.00605)" d="M763 0H583V1147Q518 1085 412.5 1023T223 930V1104Q374 1175 487 1276T647 1472H763V0Z" fill="#000"/>
<text x="906.19" y="391.50" fill="#000" font-size="12.40" font-family="Liberation Sans, sans-serif">6</text>
<path transform="translate(941.07,398.40) scale(0.00859,-0.00859)" d="M763 0H583V1147Q518 1085 412.5 1023T223 930V1104Q374 1175 487 1276T647 1472H763V0Z" fill="#000"/>
<text x="950.86" y="398.40" fill="#000" font-size="17.60" font-family="Liberation Sans, sans-serif">0</text>
<text x="960.64" y="391.50" fill="#000" font-size="12.40" font-family="Liberation Sans, sans-serif">20</text>
<path transform="translate(1002.42,398.40) scale(0.00859,-0.00859)" d="M763 0H583V1147Q518 1085 412.5 1023T223 930V1104Q374 1175 487 1276T647 1472H763V0Z" fill="#000"/>
<text x="1012.21" y="398.40" fill="#000" font-size="17.60" font-family="Liberation Sans, sans-serif">0</text>
<text x="1021.99" y="391.50" fill="#000" font-size="12.40" font-family="Liberation Sans, sans-serif">24</text>
<g transform="translate(590.10,265.70) rotate(-90) scale(0.01950,-0.01950)" fill="none" stroke="#ff0000" stroke-linecap="round" stroke-linejoin="round">
<path transform="matrix(1,0,0.12,1,0.8,0.0)" d="M40,-160 L85,280 C95,420 180,510 300,505 C420,500 490,400 485,270 C480,135 400,40 290,40 C195,40 115,95 80,200" stroke-width="74"/>
<path transform="matrix(1,0,0,1,831.3,0.0)" d="M245,690 L130,690 L130,-150 L245,-150" stroke-width="97"/>
<path transform="matrix(1,0,0.27,1,1110.3,0.0)" d="M565,600 C515,690 430,728 345,725 C190,718 85,570 85,378 C85,178 185,45 340,45 C480,45 590,150 597,335 L270,335" stroke-width="97"/>
<path transform="matrix(1,0,0.27,1,1766.8,0.0)" d="M95,250 L455,315 C463,420 380,497 275,495 C160,490 82,392 82,262 C82,132 160,45 282,45 C365,45 425,80 465,140" stroke-width="97"/>
<path transform="matrix(1,0,0.06,1,2350.7,0.0)" d="M75,722 L335,8 L580,722" stroke-width="97"/>
<path transform="matrix(0.66,0,0,0.66,2964.8,472.0)" d="M430,45 L430,720 L65,245 L570,245" stroke-width="106"/>
<path transform="matrix(1,0,0,1,3445.7,0.0)" d="M131,690 L246,690 L246,-150 L131,-150" stroke-width="97"/>
</g>
<g transform="translate(1099.30,265.70) rotate(-90) scale(0.01950,-0.01950)" fill="none" stroke="#0000ff" stroke-linecap="round" stroke-linejoin="round">
<path transform="matrix(0.93,0,0,0.93,235.4,0.0)" d="M45,712 L640,712 M345,712 L345,45" stroke-width="108"/>
<path transform="matrix(1,0,0,1,1171.3,0.0)" d="M245,690 L130,690 L130,-150 L245,-150" stroke-width="100"/>
<path transform="matrix(1,0,0.27,1,1414.4,0.0)" d="M565,600 C515,690 430,728 345,725 C190,718 85,570 85,378 C85,178 185,45 340,45 C480,45 590,150 597,335 L270,335" stroke-width="100"/>
<path transform="matrix(1,0,0.27,1,2075.9,0.0)" d="M95,250 L455,315 C463,420 380,497 275,495 C160,490 82,392 82,262 C82,132 160,45 282,45 C365,45 425,80 465,140" stroke-width="100"/>
<path transform="matrix(1,0,0.06,1,2670.1,0.0)" d="M75,722 L335,8 L580,722" stroke-width="100"/>
<path transform="matrix(1,0,0,1,3278.0,0.0)" d="M131,690 L246,690 L246,-150 L131,-150" stroke-width="100"/>
</g>
<g transform="translate(829.10,425.00) rotate(0) scale(0.01800,-0.01800)" fill="none" stroke="#000" stroke-linecap="round" stroke-linejoin="round">
<path transform="matrix(1,0,0.15,1,-18.8,0.0)" d="M70,45 L350,722 L372,722 L660,45 M175,270 L570,270" stroke-width="116"/>
</g>
<g transform="translate(940.20,164.10) rotate(-90) scale(0.01500,-0.01500)" fill="none" stroke="#000" stroke-linecap="round" stroke-linejoin="round">
<path transform="matrix(1,0,0,1,-22.5,0.0)" d="M70,45 L350,722 L372,722 L660,45 M175,270 L570,270" stroke-width="95"/>
<path transform="matrix(1,0,0,1,1040.8,0.0)" d="M80,425 L430,425 M80,215 L430,215" stroke-width="95"/>
<path transform="matrix(1,0,0.15,1,1977.4,0.0)" d="M70,45 L350,722 L372,722 L660,45 M175,270 L570,270" stroke-width="95"/>
<path transform="matrix(0.75,0,0,0.75,2671.2,-60.0)" d="M105,490 L105,45 M105,320 C150,430 250,505 400,470" stroke-width="107"/>
<path transform="matrix(0.75,0,0,0.75,3048.5,-60.0)" d="M95,250 L455,315 C463,420 380,497 275,495 C160,490 82,392 82,262 C82,132 160,45 282,45 C365,45 425,80 465,140" stroke-width="107"/>
</g>
<g transform="translate(656.50,292.30) rotate(0) scale(0.01420,-0.01420)" fill="none" stroke="#000" stroke-linecap="round" stroke-linejoin="round">
<path transform="matrix(1,0,0.15,1,-44.3,0.0)" d="M50,490 L195,45 L340,410 L490,45 L640,490" stroke-width="102"/>
<path transform="matrix(0.78,0,0.156,0.78,653.5,-150.0)" d="M265,-180 L265,530 M265,490 C130,490 50,390 50,265 C50,140 130,45 265,45 C400,45 480,140 480,265 C480,390 400,490 265,490" stroke-width="79"/>
<path transform="matrix(1,0,0,1,1217.5,0.0)" d="M80,425 L430,425 M80,215 L430,215" stroke-width="102"/>
<path transform="matrix(1,0,0,1,1783.8,0.0)" d="M295,725 C150,725 70,575 70,385 C70,195 150,45 295,45 C440,45 520,195 520,385 C520,575 440,725 295,725 Z" stroke-width="102"/>
<path transform="matrix(1,0,0,1,2373.8,0.0)" d="M125,55 L125,56" stroke-width="133"/>
<path transform="matrix(1,0,0,1,2622.8,0.0)" d="M295,725 C150,725 70,575 70,385 C70,195 150,45 295,45 C440,45 520,195 520,385 C520,575 440,725 295,725 Z" stroke-width="102"/>
<path transform="matrix(1,0,0,1,4101.6,0.0)" d="M55,490 L255,70 M470,490 L175,-210" stroke-width="102"/>
<path transform="matrix(1,0,0,1,4703.4,0.0)" d="M80,425 L430,425 M80,215 L430,215" stroke-width="102"/>
<path transform="matrix(1,0,0,1,5279.7,0.0)" d="M80,570 L215,720 L215,45 M60,45 L350,45" stroke-width="102"/>
<path transform="matrix(1,0,0,1,5664.7,0.0)" d="M295,725 C150,725 70,575 70,385 C70,195 150,45 295,45 C440,45 520,195 520,385 C520,575 440,725 295,725 Z" stroke-width="102"/>
<path transform="matrix(0.7,0,0,0.7,6324.9,450.0)" d="M95,330 L465,330" stroke-width="103"/>
<path transform="matrix(0.7,0,0,0.7,6764.9,450.0)" d="M80,570 L215,720 L215,45 M60,45 L350,45" stroke-width="103"/>
<path transform="matrix(0.7,0,0,0.7,7078.3,450.0)" d="M430,45 L430,720 L65,245 L570,245" stroke-width="103"/>
<path transform="matrix(1,0,0.15,1,8075.3,0.0)" d="M45,712 L640,712 M345,712 L345,45" stroke-width="102"/>
<path transform="matrix(0.72,0,0,0.72,8747.2,-150.0)" d="M105,490 L105,45 M105,320 C150,430 250,505 400,470" stroke-width="104"/>
<path transform="matrix(0.72,0,0,0.72,9094.7,-150.0)" d="M95,250 L455,315 C463,420 380,497 275,495 C160,490 82,392 82,262 C82,132 160,45 282,45 C365,45 425,80 465,140" stroke-width="104"/>
<path transform="matrix(1,0,0,1,9611.8,0.0)" d="M80,425 L430,425 M80,215 L430,215" stroke-width="102"/>
<path transform="matrix(1,0,0,1,10188.2,0.0)" d="M80,570 L215,720 L215,45 M60,45 L350,45" stroke-width="102"/>
<path transform="matrix(1,0,0,1,10573.2,0.0)" d="M295,725 C150,725 70,575 70,385 C70,195 150,45 295,45 C440,45 520,195 520,385 C520,575 440,725 295,725 Z" stroke-width="102"/>
<path transform="matrix(1,0,0.27,1,11439.1,0.0)" d="M565,600 C515,690 430,728 345,725 C190,718 85,570 85,378 C85,178 185,45 340,45 C480,45 590,150 597,335 L270,335" stroke-width="102"/>
<path transform="matrix(1,0,0.27,1,12118.1,0.0)" d="M95,250 L455,315 C463,420 380,497 275,495 C160,490 82,392 82,262 C82,132 160,45 282,45 C365,45 425,80 465,140" stroke-width="102"/>
<path transform="matrix(1,0,0.06,1,12666.1,0.0)" d="M75,722 L335,8 L580,722" stroke-width="102"/>
</g>
<text x="703.3" y="292.9" font-size="10.5" fill="#707070" font-family="Liberation Sans, sans-serif">,</text>
<text x="764.0" y="292.9" font-size="10.5" fill="#707070" font-family="Liberation Sans, sans-serif">,</text>
<line x1="704.50" y1="311.30" x2="741.20" y2="311.30" stroke="#ff0000" stroke-width="1.5" stroke-dasharray="4.6 1.88"/>
<line x1="704.50" y1="332.40" x2="741.20" y2="332.40" stroke="#ff0000" stroke-width="1.5"/>
<line x1="704.50" y1="355.60" x2="741.20" y2="355.60" stroke="#0000ff" stroke-width="1.5"/>
<g transform="translate(749.60,315.60) rotate(0) scale(0.01550,-0.01550)" fill="none" stroke="#000" stroke-linecap="round" stroke-linejoin="round">
<path transform="matrix(1,0,0.12,1,20.2,0.0)" d="M40,-160 L85,280 C95,420 180,510 300,505 C420,500 490,400 485,270 C480,135 400,40 290,40 C195,40 115,95 80,200" stroke-width="82"/>
<path transform="matrix(0.58,0,0.116,0.58,570.7,-70.0)" d="M265,-20 L265,560 M265,490 C130,490 50,390 50,265 C50,140 130,45 265,45 C400,45 480,140 480,265 C480,390 400,490 265,490" stroke-width="95"/>
</g>
<g transform="translate(749.60,336.20) rotate(0) scale(0.01550,-0.01550)" fill="none" stroke="#000" stroke-linecap="round" stroke-linejoin="round">
<path transform="matrix(1,0,0.12,1,20.2,0.0)" d="M40,-160 L85,280 C95,420 180,510 300,505 C420,500 490,400 485,270 C480,135 400,40 290,40 C195,40 115,95 80,200" stroke-width="82"/>
<path transform="matrix(0.72,0,0.108,0.72,536.5,-160.0)" d="M110,45 L110,712 C300,742 525,690 525,545 C525,410 330,352 125,352 L565,45" stroke-width="104"/>
</g>
<g transform="translate(749.60,359.10) rotate(0) scale(0.01450,-0.01450)" fill="none" stroke="#000" stroke-linecap="round" stroke-linejoin="round">
<path transform="matrix(1,0,0,1,60.2,0.0)" d="M45,712 L640,712 M345,712 L345,45" stroke-width="100"/>
</g>
</g></svg></body></html>
